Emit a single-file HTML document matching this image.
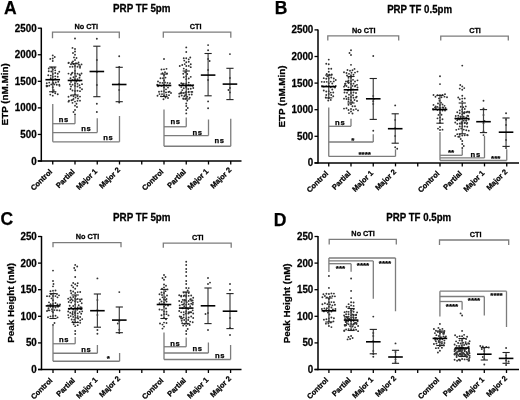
<!DOCTYPE html>
<html><head><meta charset="utf-8"><style>
html,body{margin:0;padding:0;background:#fff;}
svg{display:block;}
text{font-family:"Liberation Sans", sans-serif;stroke:#000;stroke-width:0.25px;}
</style></head><body>
<svg width="520" height="400" viewBox="0 0 520 400">
<defs><filter id="bl" x="0" y="0" width="100%" height="100%"><feGaussianBlur stdDeviation="0.3"/></filter></defs>
<rect width="520" height="400" fill="#fff"/>
<g filter="url(#bl)">
<rect width="520" height="400" fill="#fff"/>
<line x1="41.30" y1="27.70" x2="41.30" y2="161.70" stroke="#000" stroke-width="1.5"/>
<line x1="37.80" y1="161.00" x2="241.50" y2="161.00" stroke="#000" stroke-width="1.5"/>
<line x1="37.80" y1="161.00" x2="41.30" y2="161.00" stroke="#000" stroke-width="1.3"/>
<text x="0" y="0" font-size="9.8" font-weight="bold" text-anchor="end" fill="#000" transform="translate(36.60 164.55) scale(1 1.06)">0</text>
<line x1="37.80" y1="134.44" x2="41.30" y2="134.44" stroke="#000" stroke-width="1.3"/>
<text x="0" y="0" font-size="9.8" font-weight="bold" text-anchor="end" fill="#000" transform="translate(36.60 137.99) scale(1 1.06)">500</text>
<line x1="37.80" y1="107.88" x2="41.30" y2="107.88" stroke="#000" stroke-width="1.3"/>
<text x="0" y="0" font-size="9.8" font-weight="bold" text-anchor="end" fill="#000" transform="translate(36.60 111.43) scale(1 1.06)">1000</text>
<line x1="37.80" y1="81.32" x2="41.30" y2="81.32" stroke="#000" stroke-width="1.3"/>
<text x="0" y="0" font-size="9.8" font-weight="bold" text-anchor="end" fill="#000" transform="translate(36.60 84.87) scale(1 1.06)">1500</text>
<line x1="37.80" y1="54.76" x2="41.30" y2="54.76" stroke="#000" stroke-width="1.3"/>
<text x="0" y="0" font-size="9.8" font-weight="bold" text-anchor="end" fill="#000" transform="translate(36.60 58.31) scale(1 1.06)">2000</text>
<line x1="37.80" y1="28.20" x2="41.30" y2="28.20" stroke="#000" stroke-width="1.3"/>
<text x="0" y="0" font-size="9.8" font-weight="bold" text-anchor="end" fill="#000" transform="translate(36.60 31.75) scale(1 1.06)">2500</text>
<line x1="52.75" y1="161.00" x2="52.75" y2="164.50" stroke="#000" stroke-width="1.3"/>
<line x1="75.00" y1="161.00" x2="75.00" y2="164.50" stroke="#000" stroke-width="1.3"/>
<line x1="97.25" y1="161.00" x2="97.25" y2="164.50" stroke="#000" stroke-width="1.3"/>
<line x1="119.50" y1="161.00" x2="119.50" y2="164.50" stroke="#000" stroke-width="1.3"/>
<line x1="141.75" y1="161.00" x2="141.75" y2="164.50" stroke="#000" stroke-width="1.3"/>
<line x1="164.00" y1="161.00" x2="164.00" y2="164.50" stroke="#000" stroke-width="1.3"/>
<line x1="186.25" y1="161.00" x2="186.25" y2="164.50" stroke="#000" stroke-width="1.3"/>
<line x1="208.50" y1="161.00" x2="208.50" y2="164.50" stroke="#000" stroke-width="1.3"/>
<line x1="230.75" y1="161.00" x2="230.75" y2="164.50" stroke="#000" stroke-width="1.3"/>
<text x="0" y="0" font-size="7.5" font-weight="bold" text-anchor="end" fill="#000" transform="translate(52.65 172.20) rotate(-45)">Control</text>
<text x="0" y="0" font-size="7.5" font-weight="bold" text-anchor="end" fill="#000" transform="translate(75.20 172.20) rotate(-45)">Partial</text>
<text x="0" y="0" font-size="7.5" font-weight="bold" text-anchor="end" fill="#000" transform="translate(97.75 171.70) rotate(-45)">Major 1</text>
<text x="0" y="0" font-size="7.5" font-weight="bold" text-anchor="end" fill="#000" transform="translate(120.70 170.40) rotate(-45)">Major 2</text>
<text x="0" y="0" font-size="7.5" font-weight="bold" text-anchor="end" fill="#000" transform="translate(163.90 172.20) rotate(-45)">Control</text>
<text x="0" y="0" font-size="7.5" font-weight="bold" text-anchor="end" fill="#000" transform="translate(186.45 172.20) rotate(-45)">Partial</text>
<text x="0" y="0" font-size="7.5" font-weight="bold" text-anchor="end" fill="#000" transform="translate(209.00 171.70) rotate(-45)">Major 1</text>
<text x="0" y="0" font-size="7.5" font-weight="bold" text-anchor="end" fill="#000" transform="translate(231.95 170.40) rotate(-45)">Major 2</text>
<text x="4.10" y="14.00" font-size="17.5" font-weight="bold" text-anchor="start" fill="#000">A</text>
<text x="0" y="0" font-size="9.8" font-weight="bold" text-anchor="middle" fill="#000" transform="translate(141.80 12.20) scale(1 1.1)">PRP TF 5pm</text>
<polyline points="52.50,38.20 52.50,32.20 119.30,32.20 119.30,38.20" fill="none" stroke="#7c7c7c" stroke-width="1.3"/>
<text x="0" y="0" font-size="7.3" font-weight="bold" text-anchor="middle" fill="#000" transform="translate(86.25 29.00) scale(1 1.08)">No CTI</text>
<polyline points="163.30,37.70 163.30,32.20 230.80,32.20 230.80,37.70" fill="none" stroke="#7c7c7c" stroke-width="1.3"/>
<text x="0" y="0" font-size="7.3" font-weight="bold" text-anchor="middle" fill="#000" transform="translate(195.70 29.00) scale(1 1.08)">CTI</text>
<text x="0" y="0" font-size="9.85" font-weight="bold" text-anchor="middle" fill="#000" transform="translate(8.00 94.30) rotate(-90)">ETP (nM.Min)</text>
<circle cx="52.75" cy="76.86" r="0.95" fill="#333"/>
<circle cx="52.75" cy="80.10" r="0.95" fill="#333"/>
<circle cx="50.75" cy="78.18" r="0.95" fill="#333"/>
<circle cx="50.75" cy="75.60" r="0.95" fill="#333"/>
<circle cx="55.25" cy="76.33" r="0.95" fill="#333"/>
<circle cx="52.75" cy="73.96" r="0.95" fill="#333"/>
<circle cx="48.25" cy="75.24" r="0.95" fill="#333"/>
<circle cx="55.25" cy="73.06" r="0.95" fill="#333"/>
<circle cx="55.25" cy="78.93" r="0.95" fill="#333"/>
<circle cx="52.75" cy="82.53" r="0.95" fill="#333"/>
<circle cx="57.75" cy="76.70" r="0.95" fill="#333"/>
<circle cx="54.25" cy="84.39" r="0.95" fill="#333"/>
<circle cx="51.25" cy="84.38" r="0.95" fill="#333"/>
<circle cx="55.75" cy="82.57" r="0.95" fill="#333"/>
<circle cx="49.25" cy="82.58" r="0.95" fill="#333"/>
<circle cx="58.25" cy="81.79" r="0.95" fill="#333"/>
<circle cx="46.75" cy="83.28" r="0.95" fill="#333"/>
<circle cx="57.75" cy="73.71" r="0.95" fill="#333"/>
<circle cx="56.75" cy="84.78" r="0.95" fill="#333"/>
<circle cx="53.23" cy="83.32" r="0.95" fill="#333"/>
<circle cx="52.75" cy="87.32" r="0.95" fill="#333"/>
<circle cx="49.25" cy="85.67" r="0.95" fill="#333"/>
<circle cx="52.75" cy="69.50" r="0.95" fill="#333"/>
<circle cx="51.25" cy="71.55" r="0.95" fill="#333"/>
<circle cx="55.25" cy="70.35" r="0.95" fill="#333"/>
<circle cx="59.25" cy="84.75" r="0.95" fill="#333"/>
<circle cx="48.75" cy="71.32" r="0.95" fill="#333"/>
<circle cx="51.25" cy="67.66" r="0.95" fill="#333"/>
<circle cx="59.25" cy="71.82" r="0.95" fill="#333"/>
<circle cx="46.75" cy="86.39" r="0.95" fill="#333"/>
<circle cx="46.62" cy="85.77" r="0.95" fill="#333"/>
<circle cx="59.54" cy="85.83" r="0.95" fill="#333"/>
<circle cx="48.75" cy="68.49" r="0.95" fill="#333"/>
<circle cx="47.29" cy="85.95" r="0.95" fill="#333"/>
<circle cx="52.75" cy="92.33" r="0.95" fill="#333"/>
<circle cx="53.75" cy="90.08" r="0.95" fill="#333"/>
<circle cx="54.75" cy="67.99" r="0.95" fill="#333"/>
<circle cx="55.25" cy="93.26" r="0.95" fill="#333"/>
<circle cx="52.75" cy="95.66" r="0.95" fill="#333"/>
<circle cx="50.25" cy="94.61" r="0.95" fill="#333"/>
<circle cx="57.75" cy="94.31" r="0.95" fill="#333"/>
<circle cx="52.75" cy="61.06" r="0.95" fill="#333"/>
<circle cx="52.75" cy="58.57" r="0.95" fill="#333"/>
<circle cx="50.25" cy="58.88" r="0.95" fill="#333"/>
<circle cx="52.75" cy="55.40" r="0.95" fill="#333"/>
<circle cx="54.75" cy="57.00" r="0.95" fill="#333"/>
<line x1="52.75" y1="67.00" x2="52.75" y2="91.75" stroke="#444" stroke-width="1.2"/>
<line x1="49.15" y1="67.00" x2="56.35" y2="67.00" stroke="#222" stroke-width="1.1"/>
<line x1="49.15" y1="91.75" x2="56.35" y2="91.75" stroke="#222" stroke-width="1.1"/>
<line x1="45.45" y1="79.70" x2="60.05" y2="79.70" stroke="#000" stroke-width="1.6"/>
<circle cx="75.00" cy="79.23" r="0.95" fill="#333"/>
<circle cx="72.50" cy="79.98" r="0.95" fill="#333"/>
<circle cx="77.50" cy="79.17" r="0.95" fill="#333"/>
<circle cx="75.00" cy="83.48" r="0.95" fill="#333"/>
<circle cx="70.50" cy="78.26" r="0.95" fill="#333"/>
<circle cx="76.50" cy="81.50" r="0.95" fill="#333"/>
<circle cx="72.50" cy="84.66" r="0.95" fill="#333"/>
<circle cx="77.50" cy="83.85" r="0.95" fill="#333"/>
<circle cx="70.00" cy="84.25" r="0.95" fill="#333"/>
<circle cx="71.00" cy="81.91" r="0.95" fill="#333"/>
<circle cx="79.50" cy="80.66" r="0.95" fill="#333"/>
<circle cx="75.00" cy="85.88" r="0.95" fill="#333"/>
<circle cx="77.50" cy="86.54" r="0.95" fill="#333"/>
<circle cx="71.00" cy="86.57" r="0.95" fill="#333"/>
<circle cx="79.50" cy="85.18" r="0.95" fill="#333"/>
<circle cx="79.50" cy="77.81" r="0.95" fill="#333"/>
<circle cx="75.00" cy="73.54" r="0.95" fill="#333"/>
<circle cx="72.50" cy="72.62" r="0.95" fill="#333"/>
<circle cx="73.50" cy="77.18" r="0.95" fill="#333"/>
<circle cx="82.00" cy="84.16" r="0.95" fill="#333"/>
<circle cx="77.50" cy="73.67" r="0.95" fill="#333"/>
<circle cx="76.00" cy="76.31" r="0.95" fill="#333"/>
<circle cx="71.00" cy="74.63" r="0.95" fill="#333"/>
<circle cx="75.00" cy="70.85" r="0.95" fill="#333"/>
<circle cx="80.00" cy="75.48" r="0.95" fill="#333"/>
<circle cx="81.50" cy="73.44" r="0.95" fill="#333"/>
<circle cx="68.50" cy="73.58" r="0.95" fill="#333"/>
<circle cx="75.00" cy="90.94" r="0.95" fill="#333"/>
<circle cx="71.81" cy="73.41" r="0.95" fill="#333"/>
<circle cx="80.00" cy="87.64" r="0.95" fill="#333"/>
<circle cx="72.50" cy="90.51" r="0.95" fill="#333"/>
<circle cx="79.48" cy="74.39" r="0.95" fill="#333"/>
<circle cx="77.50" cy="90.79" r="0.95" fill="#333"/>
<circle cx="70.50" cy="88.99" r="0.95" fill="#333"/>
<circle cx="82.00" cy="89.21" r="0.95" fill="#333"/>
<circle cx="75.00" cy="94.35" r="0.95" fill="#333"/>
<circle cx="75.00" cy="65.97" r="0.95" fill="#333"/>
<circle cx="80.00" cy="91.13" r="0.95" fill="#333"/>
<circle cx="72.50" cy="66.68" r="0.95" fill="#333"/>
<circle cx="77.50" cy="66.73" r="0.95" fill="#333"/>
<circle cx="80.00" cy="67.76" r="0.95" fill="#333"/>
<circle cx="73.50" cy="96.30" r="0.95" fill="#333"/>
<circle cx="79.00" cy="64.80" r="0.95" fill="#333"/>
<circle cx="73.50" cy="63.97" r="0.95" fill="#333"/>
<circle cx="71.00" cy="64.18" r="0.95" fill="#333"/>
<circle cx="76.00" cy="63.14" r="0.95" fill="#333"/>
<circle cx="75.50" cy="97.56" r="0.95" fill="#333"/>
<circle cx="70.00" cy="66.84" r="0.95" fill="#333"/>
<circle cx="77.50" cy="96.13" r="0.95" fill="#333"/>
<circle cx="81.50" cy="64.39" r="0.95" fill="#333"/>
<circle cx="80.08" cy="66.15" r="0.95" fill="#333"/>
<circle cx="73.50" cy="98.88" r="0.95" fill="#333"/>
<circle cx="71.00" cy="95.53" r="0.95" fill="#333"/>
<circle cx="80.00" cy="96.59" r="0.95" fill="#333"/>
<circle cx="68.50" cy="96.71" r="0.95" fill="#333"/>
<circle cx="78.00" cy="98.51" r="0.95" fill="#333"/>
<circle cx="78.50" cy="62.41" r="0.95" fill="#333"/>
<circle cx="75.00" cy="101.61" r="0.95" fill="#333"/>
<circle cx="68.50" cy="63.09" r="0.95" fill="#333"/>
<circle cx="77.50" cy="100.83" r="0.95" fill="#333"/>
<circle cx="71.50" cy="100.23" r="0.95" fill="#333"/>
<circle cx="68.71" cy="62.65" r="0.95" fill="#333"/>
<circle cx="80.00" cy="100.64" r="0.95" fill="#333"/>
<circle cx="75.00" cy="59.93" r="0.95" fill="#333"/>
<circle cx="73.00" cy="61.41" r="0.95" fill="#333"/>
<circle cx="72.06" cy="62.45" r="0.95" fill="#333"/>
<circle cx="69.00" cy="100.71" r="0.95" fill="#333"/>
<circle cx="72.86" cy="99.83" r="0.95" fill="#333"/>
<circle cx="75.00" cy="105.64" r="0.95" fill="#333"/>
<circle cx="68.52" cy="101.66" r="0.95" fill="#333"/>
<circle cx="76.50" cy="57.97" r="0.95" fill="#333"/>
<circle cx="74.00" cy="57.38" r="0.95" fill="#333"/>
<circle cx="72.50" cy="102.84" r="0.95" fill="#333"/>
<circle cx="76.50" cy="103.82" r="0.95" fill="#333"/>
<circle cx="75.00" cy="54.68" r="0.95" fill="#333"/>
<circle cx="77.00" cy="106.97" r="0.95" fill="#333"/>
<circle cx="73.00" cy="53.00" r="0.95" fill="#333"/>
<circle cx="75.00" cy="110.00" r="0.95" fill="#333"/>
<circle cx="73.50" cy="112.00" r="0.95" fill="#333"/>
<circle cx="75.00" cy="51.50" r="0.95" fill="#333"/>
<circle cx="75.00" cy="114.50" r="0.95" fill="#333"/>
<circle cx="75.00" cy="49.00" r="0.95" fill="#333"/>
<circle cx="72.50" cy="47.90" r="0.95" fill="#333"/>
<circle cx="75.00" cy="38.50" r="0.95" fill="#333"/>
<line x1="75.00" y1="63.75" x2="75.00" y2="95.00" stroke="#444" stroke-width="1.2"/>
<line x1="71.40" y1="63.75" x2="78.60" y2="63.75" stroke="#222" stroke-width="1.1"/>
<line x1="71.40" y1="95.00" x2="78.60" y2="95.00" stroke="#222" stroke-width="1.1"/>
<line x1="67.70" y1="80.45" x2="82.30" y2="80.45" stroke="#000" stroke-width="1.6"/>
<circle cx="96.85" cy="85.00" r="0.95" fill="#333"/>
<circle cx="96.85" cy="72.00" r="0.95" fill="#333"/>
<circle cx="96.85" cy="60.00" r="0.95" fill="#333"/>
<circle cx="96.85" cy="103.75" r="0.95" fill="#333"/>
<circle cx="96.85" cy="112.00" r="0.95" fill="#333"/>
<circle cx="96.85" cy="38.75" r="0.95" fill="#333"/>
<line x1="96.85" y1="46.20" x2="96.85" y2="96.70" stroke="#444" stroke-width="1.2"/>
<line x1="93.25" y1="46.20" x2="100.45" y2="46.20" stroke="#222" stroke-width="1.1"/>
<line x1="93.25" y1="96.70" x2="100.45" y2="96.70" stroke="#222" stroke-width="1.1"/>
<line x1="89.55" y1="71.50" x2="104.15" y2="71.50" stroke="#000" stroke-width="1.6"/>
<circle cx="119.20" cy="83.75" r="0.95" fill="#333"/>
<circle cx="119.20" cy="90.00" r="0.95" fill="#333"/>
<circle cx="119.20" cy="67.00" r="0.95" fill="#333"/>
<circle cx="119.20" cy="56.25" r="0.95" fill="#333"/>
<circle cx="119.20" cy="102.50" r="0.95" fill="#333"/>
<line x1="119.20" y1="67.30" x2="119.20" y2="101.70" stroke="#444" stroke-width="1.2"/>
<line x1="115.60" y1="67.30" x2="122.80" y2="67.30" stroke="#222" stroke-width="1.1"/>
<line x1="115.60" y1="101.70" x2="122.80" y2="101.70" stroke="#222" stroke-width="1.1"/>
<line x1="111.90" y1="84.50" x2="126.50" y2="84.50" stroke="#000" stroke-width="1.6"/>
<circle cx="164.00" cy="84.71" r="0.95" fill="#333"/>
<circle cx="164.00" cy="87.41" r="0.95" fill="#333"/>
<circle cx="161.50" cy="85.92" r="0.95" fill="#333"/>
<circle cx="162.50" cy="82.88" r="0.95" fill="#333"/>
<circle cx="165.00" cy="82.56" r="0.95" fill="#333"/>
<circle cx="167.50" cy="82.91" r="0.95" fill="#333"/>
<circle cx="166.50" cy="85.57" r="0.95" fill="#333"/>
<circle cx="159.00" cy="85.37" r="0.95" fill="#333"/>
<circle cx="169.00" cy="85.36" r="0.95" fill="#333"/>
<circle cx="157.25" cy="84.69" r="0.95" fill="#333"/>
<circle cx="158.07" cy="86.32" r="0.95" fill="#333"/>
<circle cx="160.00" cy="82.69" r="0.95" fill="#333"/>
<circle cx="164.00" cy="91.10" r="0.95" fill="#333"/>
<circle cx="161.50" cy="91.37" r="0.95" fill="#333"/>
<circle cx="170.00" cy="83.22" r="0.95" fill="#333"/>
<circle cx="168.00" cy="87.62" r="0.95" fill="#333"/>
<circle cx="158.00" cy="81.44" r="0.95" fill="#333"/>
<circle cx="166.00" cy="92.39" r="0.95" fill="#333"/>
<circle cx="164.00" cy="80.40" r="0.95" fill="#333"/>
<circle cx="168.50" cy="92.01" r="0.95" fill="#333"/>
<circle cx="163.00" cy="78.23" r="0.95" fill="#333"/>
<circle cx="166.00" cy="89.34" r="0.95" fill="#333"/>
<circle cx="159.00" cy="91.69" r="0.95" fill="#333"/>
<circle cx="171.00" cy="93.02" r="0.95" fill="#333"/>
<circle cx="165.50" cy="77.62" r="0.95" fill="#333"/>
<circle cx="164.00" cy="95.52" r="0.95" fill="#333"/>
<circle cx="169.57" cy="91.67" r="0.95" fill="#333"/>
<circle cx="162.00" cy="94.08" r="0.95" fill="#333"/>
<circle cx="160.50" cy="78.22" r="0.95" fill="#333"/>
<circle cx="164.00" cy="75.37" r="0.95" fill="#333"/>
<circle cx="159.50" cy="94.11" r="0.95" fill="#333"/>
<circle cx="165.50" cy="97.60" r="0.95" fill="#333"/>
<circle cx="162.50" cy="73.32" r="0.95" fill="#333"/>
<circle cx="166.50" cy="94.90" r="0.95" fill="#333"/>
<circle cx="169.00" cy="95.13" r="0.95" fill="#333"/>
<circle cx="157.50" cy="95.82" r="0.95" fill="#333"/>
<circle cx="161.00" cy="96.33" r="0.95" fill="#333"/>
<circle cx="165.00" cy="72.17" r="0.95" fill="#333"/>
<circle cx="163.50" cy="99.25" r="0.95" fill="#333"/>
<circle cx="167.00" cy="73.44" r="0.95" fill="#333"/>
<circle cx="168.00" cy="98.01" r="0.95" fill="#333"/>
<circle cx="164.00" cy="69.36" r="0.95" fill="#333"/>
<circle cx="161.50" cy="69.52" r="0.95" fill="#333"/>
<circle cx="166.50" cy="68.83" r="0.95" fill="#333"/>
<circle cx="164.00" cy="59.00" r="0.95" fill="#333"/>
<line x1="164.00" y1="74.00" x2="164.00" y2="96.50" stroke="#444" stroke-width="1.2"/>
<line x1="160.40" y1="74.00" x2="167.60" y2="74.00" stroke="#222" stroke-width="1.1"/>
<line x1="160.40" y1="96.50" x2="167.60" y2="96.50" stroke="#222" stroke-width="1.1"/>
<line x1="156.70" y1="85.50" x2="171.30" y2="85.50" stroke="#000" stroke-width="1.6"/>
<circle cx="186.25" cy="83.35" r="0.95" fill="#333"/>
<circle cx="183.75" cy="83.77" r="0.95" fill="#333"/>
<circle cx="188.75" cy="82.59" r="0.95" fill="#333"/>
<circle cx="181.25" cy="83.23" r="0.95" fill="#333"/>
<circle cx="188.25" cy="85.03" r="0.95" fill="#333"/>
<circle cx="190.75" cy="85.19" r="0.95" fill="#333"/>
<circle cx="179.25" cy="84.98" r="0.95" fill="#333"/>
<circle cx="193.25" cy="85.12" r="0.95" fill="#333"/>
<circle cx="186.19" cy="84.48" r="0.95" fill="#333"/>
<circle cx="186.25" cy="87.49" r="0.95" fill="#333"/>
<circle cx="189.97" cy="85.27" r="0.95" fill="#333"/>
<circle cx="182.48" cy="84.96" r="0.95" fill="#333"/>
<circle cx="182.96" cy="83.82" r="0.95" fill="#333"/>
<circle cx="183.75" cy="88.25" r="0.95" fill="#333"/>
<circle cx="192.58" cy="85.79" r="0.95" fill="#333"/>
<circle cx="188.25" cy="89.07" r="0.95" fill="#333"/>
<circle cx="181.25" cy="87.09" r="0.95" fill="#333"/>
<circle cx="186.04" cy="86.61" r="0.95" fill="#333"/>
<circle cx="190.75" cy="88.81" r="0.95" fill="#333"/>
<circle cx="186.25" cy="76.26" r="0.95" fill="#333"/>
<circle cx="183.75" cy="77.29" r="0.95" fill="#333"/>
<circle cx="186.25" cy="79.16" r="0.95" fill="#333"/>
<circle cx="188.75" cy="78.55" r="0.95" fill="#333"/>
<circle cx="193.25" cy="88.06" r="0.95" fill="#333"/>
<circle cx="186.25" cy="91.98" r="0.95" fill="#333"/>
<circle cx="183.75" cy="92.97" r="0.95" fill="#333"/>
<circle cx="187.25" cy="73.99" r="0.95" fill="#333"/>
<circle cx="188.75" cy="91.80" r="0.95" fill="#333"/>
<circle cx="186.25" cy="94.57" r="0.95" fill="#333"/>
<circle cx="182.25" cy="90.11" r="0.95" fill="#333"/>
<circle cx="191.25" cy="91.85" r="0.95" fill="#333"/>
<circle cx="181.25" cy="92.26" r="0.95" fill="#333"/>
<circle cx="190.75" cy="76.85" r="0.95" fill="#333"/>
<circle cx="192.29" cy="91.88" r="0.95" fill="#333"/>
<circle cx="184.25" cy="96.19" r="0.95" fill="#333"/>
<circle cx="181.85" cy="93.06" r="0.95" fill="#333"/>
<circle cx="185.25" cy="72.24" r="0.95" fill="#333"/>
<circle cx="187.25" cy="96.79" r="0.95" fill="#333"/>
<circle cx="188.55" cy="92.33" r="0.95" fill="#333"/>
<circle cx="179.25" cy="93.64" r="0.95" fill="#333"/>
<circle cx="189.25" cy="94.60" r="0.95" fill="#333"/>
<circle cx="185.44" cy="92.54" r="0.95" fill="#333"/>
<circle cx="183.25" cy="73.71" r="0.95" fill="#333"/>
<circle cx="180.35" cy="93.29" r="0.95" fill="#333"/>
<circle cx="191.75" cy="94.54" r="0.95" fill="#333"/>
<circle cx="185.13" cy="95.30" r="0.95" fill="#333"/>
<circle cx="181.75" cy="95.49" r="0.95" fill="#333"/>
<circle cx="185.75" cy="98.70" r="0.95" fill="#333"/>
<circle cx="189.75" cy="97.75" r="0.95" fill="#333"/>
<circle cx="183.25" cy="98.52" r="0.95" fill="#333"/>
<circle cx="179.25" cy="96.48" r="0.95" fill="#333"/>
<circle cx="186.25" cy="66.07" r="0.95" fill="#333"/>
<circle cx="188.75" cy="65.91" r="0.95" fill="#333"/>
<circle cx="186.25" cy="69.67" r="0.95" fill="#333"/>
<circle cx="183.75" cy="68.58" r="0.95" fill="#333"/>
<circle cx="184.75" cy="64.12" r="0.95" fill="#333"/>
<circle cx="182.25" cy="65.04" r="0.95" fill="#333"/>
<circle cx="190.75" cy="67.17" r="0.95" fill="#333"/>
<circle cx="190.75" cy="64.21" r="0.95" fill="#333"/>
<circle cx="186.25" cy="103.50" r="0.95" fill="#333"/>
<circle cx="187.25" cy="100.66" r="0.95" fill="#333"/>
<circle cx="179.75" cy="65.93" r="0.95" fill="#333"/>
<circle cx="186.25" cy="62.20" r="0.95" fill="#333"/>
<circle cx="186.25" cy="58.18" r="0.95" fill="#333"/>
<circle cx="188.75" cy="59.35" r="0.95" fill="#333"/>
<circle cx="184.25" cy="60.62" r="0.95" fill="#333"/>
<circle cx="186.25" cy="106.00" r="0.95" fill="#333"/>
<circle cx="188.75" cy="61.74" r="0.95" fill="#333"/>
<circle cx="183.75" cy="58.19" r="0.95" fill="#333"/>
<circle cx="186.25" cy="110.00" r="0.95" fill="#333"/>
<circle cx="190.25" cy="57.49" r="0.95" fill="#333"/>
<circle cx="187.75" cy="108.00" r="0.95" fill="#333"/>
<circle cx="186.25" cy="113.40" r="0.95" fill="#333"/>
<circle cx="186.25" cy="52.00" r="0.95" fill="#333"/>
<circle cx="186.25" cy="47.40" r="0.95" fill="#333"/>
<line x1="186.25" y1="71.00" x2="186.25" y2="99.00" stroke="#444" stroke-width="1.2"/>
<line x1="182.65" y1="71.00" x2="189.85" y2="71.00" stroke="#222" stroke-width="1.1"/>
<line x1="182.65" y1="99.00" x2="189.85" y2="99.00" stroke="#222" stroke-width="1.1"/>
<line x1="178.95" y1="85.50" x2="193.55" y2="85.50" stroke="#000" stroke-width="1.6"/>
<circle cx="208.10" cy="70.00" r="0.95" fill="#333"/>
<circle cx="208.10" cy="80.00" r="0.95" fill="#333"/>
<circle cx="208.10" cy="59.00" r="0.95" fill="#333"/>
<circle cx="209.60" cy="61.00" r="0.95" fill="#333"/>
<circle cx="208.10" cy="50.30" r="0.95" fill="#333"/>
<circle cx="208.10" cy="45.10" r="0.95" fill="#333"/>
<circle cx="208.10" cy="101.40" r="0.95" fill="#333"/>
<circle cx="208.10" cy="108.20" r="0.95" fill="#333"/>
<line x1="208.10" y1="53.50" x2="208.10" y2="95.80" stroke="#444" stroke-width="1.2"/>
<line x1="204.50" y1="53.50" x2="211.70" y2="53.50" stroke="#222" stroke-width="1.1"/>
<line x1="204.50" y1="95.80" x2="211.70" y2="95.80" stroke="#222" stroke-width="1.1"/>
<line x1="200.80" y1="75.10" x2="215.40" y2="75.10" stroke="#000" stroke-width="1.6"/>
<circle cx="229.95" cy="78.00" r="0.95" fill="#333"/>
<circle cx="229.95" cy="88.00" r="0.95" fill="#333"/>
<circle cx="228.45" cy="90.00" r="0.95" fill="#333"/>
<circle cx="229.95" cy="92.40" r="0.95" fill="#333"/>
<circle cx="229.95" cy="54.10" r="0.95" fill="#333"/>
<line x1="229.95" y1="68.30" x2="229.95" y2="99.60" stroke="#444" stroke-width="1.2"/>
<line x1="226.35" y1="68.30" x2="233.55" y2="68.30" stroke="#222" stroke-width="1.1"/>
<line x1="226.35" y1="99.60" x2="233.55" y2="99.60" stroke="#222" stroke-width="1.1"/>
<line x1="222.65" y1="84.10" x2="237.25" y2="84.10" stroke="#000" stroke-width="1.6"/>
<line x1="52.75" y1="104.00" x2="52.75" y2="141.80" stroke="#7c7c7c" stroke-width="1.3"/>
<line x1="52.75" y1="123.70" x2="75.00" y2="123.70" stroke="#7c7c7c" stroke-width="1.3"/>
<line x1="75.00" y1="115.50" x2="75.00" y2="123.70" stroke="#7c7c7c" stroke-width="1.3"/>
<text x="63.85" y="121.60" font-size="7.6" font-weight="bold" text-anchor="middle" fill="#000" letter-spacing="0.7">ns</text>
<line x1="52.75" y1="132.60" x2="97.25" y2="132.60" stroke="#7c7c7c" stroke-width="1.3"/>
<line x1="97.25" y1="118.30" x2="97.25" y2="132.60" stroke="#7c7c7c" stroke-width="1.3"/>
<text x="86.35" y="130.90" font-size="7.6" font-weight="bold" text-anchor="middle" fill="#000" letter-spacing="0.7">ns</text>
<line x1="52.75" y1="141.80" x2="119.50" y2="141.80" stroke="#7c7c7c" stroke-width="1.3"/>
<line x1="119.50" y1="116.00" x2="119.50" y2="141.80" stroke="#7c7c7c" stroke-width="1.3"/>
<text x="108.35" y="139.80" font-size="7.6" font-weight="bold" text-anchor="middle" fill="#000" letter-spacing="0.7">ns</text>
<line x1="164.00" y1="109.50" x2="164.00" y2="146.25" stroke="#7c7c7c" stroke-width="1.3"/>
<line x1="164.00" y1="126.75" x2="186.25" y2="126.75" stroke="#7c7c7c" stroke-width="1.3"/>
<line x1="186.25" y1="117.50" x2="186.25" y2="126.75" stroke="#7c7c7c" stroke-width="1.3"/>
<text x="175.55" y="124.40" font-size="7.6" font-weight="bold" text-anchor="middle" fill="#000" letter-spacing="0.7">ns</text>
<line x1="164.00" y1="135.60" x2="208.50" y2="135.60" stroke="#7c7c7c" stroke-width="1.3"/>
<line x1="208.50" y1="119.50" x2="208.50" y2="135.60" stroke="#7c7c7c" stroke-width="1.3"/>
<text x="197.55" y="135.00" font-size="7.6" font-weight="bold" text-anchor="middle" fill="#000" letter-spacing="0.7">ns</text>
<line x1="164.00" y1="146.25" x2="230.75" y2="146.25" stroke="#7c7c7c" stroke-width="1.3"/>
<line x1="230.75" y1="118.75" x2="230.75" y2="146.25" stroke="#7c7c7c" stroke-width="1.3"/>
<text x="219.55" y="143.20" font-size="7.6" font-weight="bold" text-anchor="middle" fill="#000" letter-spacing="0.7">ns</text>
<line x1="318.00" y1="29.40" x2="318.00" y2="163.60" stroke="#000" stroke-width="1.5"/>
<line x1="314.50" y1="162.90" x2="519.00" y2="162.90" stroke="#000" stroke-width="1.5"/>
<line x1="314.50" y1="162.90" x2="318.00" y2="162.90" stroke="#000" stroke-width="1.3"/>
<text x="0" y="0" font-size="9.8" font-weight="bold" text-anchor="end" fill="#000" transform="translate(313.30 166.45) scale(1 1.06)">0</text>
<line x1="314.50" y1="136.30" x2="318.00" y2="136.30" stroke="#000" stroke-width="1.3"/>
<text x="0" y="0" font-size="9.8" font-weight="bold" text-anchor="end" fill="#000" transform="translate(313.30 139.85) scale(1 1.06)">500</text>
<line x1="314.50" y1="109.70" x2="318.00" y2="109.70" stroke="#000" stroke-width="1.3"/>
<text x="0" y="0" font-size="9.8" font-weight="bold" text-anchor="end" fill="#000" transform="translate(313.30 113.25) scale(1 1.06)">1000</text>
<line x1="314.50" y1="83.10" x2="318.00" y2="83.10" stroke="#000" stroke-width="1.3"/>
<text x="0" y="0" font-size="9.8" font-weight="bold" text-anchor="end" fill="#000" transform="translate(313.30 86.65) scale(1 1.06)">1500</text>
<line x1="314.50" y1="56.50" x2="318.00" y2="56.50" stroke="#000" stroke-width="1.3"/>
<text x="0" y="0" font-size="9.8" font-weight="bold" text-anchor="end" fill="#000" transform="translate(313.30 60.05) scale(1 1.06)">2000</text>
<line x1="314.50" y1="29.90" x2="318.00" y2="29.90" stroke="#000" stroke-width="1.3"/>
<text x="0" y="0" font-size="9.8" font-weight="bold" text-anchor="end" fill="#000" transform="translate(313.30 33.45) scale(1 1.06)">2500</text>
<line x1="328.75" y1="162.90" x2="328.75" y2="166.40" stroke="#000" stroke-width="1.3"/>
<line x1="351.00" y1="162.90" x2="351.00" y2="166.40" stroke="#000" stroke-width="1.3"/>
<line x1="373.25" y1="162.90" x2="373.25" y2="166.40" stroke="#000" stroke-width="1.3"/>
<line x1="395.50" y1="162.90" x2="395.50" y2="166.40" stroke="#000" stroke-width="1.3"/>
<line x1="417.75" y1="162.90" x2="417.75" y2="166.40" stroke="#000" stroke-width="1.3"/>
<line x1="440.00" y1="162.90" x2="440.00" y2="166.40" stroke="#000" stroke-width="1.3"/>
<line x1="462.25" y1="162.90" x2="462.25" y2="166.40" stroke="#000" stroke-width="1.3"/>
<line x1="484.50" y1="162.90" x2="484.50" y2="166.40" stroke="#000" stroke-width="1.3"/>
<line x1="506.75" y1="162.90" x2="506.75" y2="166.40" stroke="#000" stroke-width="1.3"/>
<text x="0" y="0" font-size="7.5" font-weight="bold" text-anchor="end" fill="#000" transform="translate(328.65 174.10) rotate(-45)">Control</text>
<text x="0" y="0" font-size="7.5" font-weight="bold" text-anchor="end" fill="#000" transform="translate(351.20 174.10) rotate(-45)">Partial</text>
<text x="0" y="0" font-size="7.5" font-weight="bold" text-anchor="end" fill="#000" transform="translate(373.75 173.60) rotate(-45)">Major 1</text>
<text x="0" y="0" font-size="7.5" font-weight="bold" text-anchor="end" fill="#000" transform="translate(396.70 172.30) rotate(-45)">Major 2</text>
<text x="0" y="0" font-size="7.5" font-weight="bold" text-anchor="end" fill="#000" transform="translate(439.90 174.10) rotate(-45)">Control</text>
<text x="0" y="0" font-size="7.5" font-weight="bold" text-anchor="end" fill="#000" transform="translate(462.45 174.10) rotate(-45)">Partial</text>
<text x="0" y="0" font-size="7.5" font-weight="bold" text-anchor="end" fill="#000" transform="translate(485.00 173.60) rotate(-45)">Major 1</text>
<text x="0" y="0" font-size="7.5" font-weight="bold" text-anchor="end" fill="#000" transform="translate(507.95 172.30) rotate(-45)">Major 2</text>
<text x="274.70" y="13.60" font-size="17.5" font-weight="bold" text-anchor="start" fill="#000">B</text>
<text x="0" y="0" font-size="9.7" font-weight="bold" text-anchor="middle" fill="#000" transform="translate(419.60 13.40) scale(1 1.07)">PRP TF 0.5pm</text>
<polyline points="327.80,40.40 327.80,35.90 398.70,35.90 398.70,40.40" fill="none" stroke="#7c7c7c" stroke-width="1.3"/>
<text x="0" y="0" font-size="7.3" font-weight="bold" text-anchor="middle" fill="#000" transform="translate(363.75 32.70) scale(1 1.08)">No CTI</text>
<polyline points="440.75,40.60 440.75,36.10 508.30,36.10 508.30,40.60" fill="none" stroke="#7c7c7c" stroke-width="1.3"/>
<text x="0" y="0" font-size="7.3" font-weight="bold" text-anchor="middle" fill="#000" transform="translate(475.00 32.90) scale(1 1.08)">CTI</text>
<text x="0" y="0" font-size="9.85" font-weight="bold" text-anchor="middle" fill="#000" transform="translate(285.00 96.50) rotate(-90)">ETP (nM.Min)</text>
<circle cx="328.75" cy="83.30" r="0.95" fill="#333"/>
<circle cx="330.75" cy="81.61" r="0.95" fill="#333"/>
<circle cx="328.75" cy="85.83" r="0.95" fill="#333"/>
<circle cx="326.75" cy="81.87" r="0.95" fill="#333"/>
<circle cx="332.25" cy="83.43" r="0.95" fill="#333"/>
<circle cx="326.25" cy="86.12" r="0.95" fill="#333"/>
<circle cx="330.75" cy="87.33" r="0.95" fill="#333"/>
<circle cx="333.25" cy="86.47" r="0.95" fill="#333"/>
<circle cx="323.75" cy="86.54" r="0.95" fill="#333"/>
<circle cx="335.75" cy="85.95" r="0.95" fill="#333"/>
<circle cx="328.75" cy="78.40" r="0.95" fill="#333"/>
<circle cx="324.25" cy="81.91" r="0.95" fill="#333"/>
<circle cx="322.00" cy="86.02" r="0.95" fill="#333"/>
<circle cx="333.75" cy="81.42" r="0.95" fill="#333"/>
<circle cx="331.25" cy="77.47" r="0.95" fill="#333"/>
<circle cx="326.25" cy="78.82" r="0.95" fill="#333"/>
<circle cx="321.75" cy="81.83" r="0.95" fill="#333"/>
<circle cx="334.94" cy="87.57" r="0.95" fill="#333"/>
<circle cx="323.75" cy="78.14" r="0.95" fill="#333"/>
<circle cx="333.75" cy="78.46" r="0.95" fill="#333"/>
<circle cx="335.75" cy="80.06" r="0.95" fill="#333"/>
<circle cx="327.25" cy="76.34" r="0.95" fill="#333"/>
<circle cx="328.75" cy="91.16" r="0.95" fill="#333"/>
<circle cx="326.25" cy="91.54" r="0.95" fill="#333"/>
<circle cx="329.25" cy="74.69" r="0.95" fill="#333"/>
<circle cx="330.75" cy="92.60" r="0.95" fill="#333"/>
<circle cx="332.25" cy="89.45" r="0.95" fill="#333"/>
<circle cx="326.75" cy="73.98" r="0.95" fill="#333"/>
<circle cx="331.75" cy="74.39" r="0.95" fill="#333"/>
<circle cx="323.75" cy="90.57" r="0.95" fill="#333"/>
<circle cx="333.25" cy="92.46" r="0.95" fill="#333"/>
<circle cx="328.75" cy="71.76" r="0.95" fill="#333"/>
<circle cx="328.75" cy="68.79" r="0.95" fill="#333"/>
<circle cx="328.75" cy="98.18" r="0.95" fill="#333"/>
<circle cx="328.75" cy="94.03" r="0.95" fill="#333"/>
<circle cx="331.25" cy="94.95" r="0.95" fill="#333"/>
<circle cx="326.25" cy="95.06" r="0.95" fill="#333"/>
<circle cx="333.25" cy="96.19" r="0.95" fill="#333"/>
<circle cx="325.75" cy="97.41" r="0.95" fill="#333"/>
<circle cx="331.25" cy="68.74" r="0.95" fill="#333"/>
<circle cx="330.75" cy="99.91" r="0.95" fill="#333"/>
<circle cx="328.25" cy="100.53" r="0.95" fill="#333"/>
<circle cx="328.75" cy="64.31" r="0.95" fill="#333"/>
<circle cx="326.25" cy="63.77" r="0.95" fill="#333"/>
<circle cx="328.75" cy="59.60" r="0.95" fill="#333"/>
<line x1="328.75" y1="75.10" x2="328.75" y2="97.90" stroke="#444" stroke-width="1.2"/>
<line x1="325.15" y1="75.10" x2="332.35" y2="75.10" stroke="#222" stroke-width="1.1"/>
<line x1="325.15" y1="97.90" x2="332.35" y2="97.90" stroke="#222" stroke-width="1.1"/>
<line x1="321.45" y1="86.60" x2="336.05" y2="86.60" stroke="#000" stroke-width="1.6"/>
<circle cx="351.00" cy="87.91" r="0.95" fill="#333"/>
<circle cx="348.50" cy="87.35" r="0.95" fill="#333"/>
<circle cx="353.00" cy="89.41" r="0.95" fill="#333"/>
<circle cx="352.50" cy="85.91" r="0.95" fill="#333"/>
<circle cx="355.00" cy="86.41" r="0.95" fill="#333"/>
<circle cx="351.00" cy="83.90" r="0.95" fill="#333"/>
<circle cx="346.50" cy="86.01" r="0.95" fill="#333"/>
<circle cx="357.50" cy="87.50" r="0.95" fill="#333"/>
<circle cx="351.00" cy="93.07" r="0.95" fill="#333"/>
<circle cx="350.50" cy="90.25" r="0.95" fill="#333"/>
<circle cx="344.00" cy="86.64" r="0.95" fill="#333"/>
<circle cx="348.00" cy="90.45" r="0.95" fill="#333"/>
<circle cx="353.50" cy="92.49" r="0.95" fill="#333"/>
<circle cx="347.00" cy="92.72" r="0.95" fill="#333"/>
<circle cx="357.00" cy="84.85" r="0.95" fill="#333"/>
<circle cx="353.50" cy="83.63" r="0.95" fill="#333"/>
<circle cx="349.00" cy="94.66" r="0.95" fill="#333"/>
<circle cx="351.00" cy="81.29" r="0.95" fill="#333"/>
<circle cx="348.50" cy="83.02" r="0.95" fill="#333"/>
<circle cx="355.00" cy="81.55" r="0.95" fill="#333"/>
<circle cx="355.39" cy="85.60" r="0.95" fill="#333"/>
<circle cx="345.50" cy="83.82" r="0.95" fill="#333"/>
<circle cx="344.89" cy="85.35" r="0.95" fill="#333"/>
<circle cx="356.00" cy="92.97" r="0.95" fill="#333"/>
<circle cx="348.50" cy="80.39" r="0.95" fill="#333"/>
<circle cx="344.50" cy="92.49" r="0.95" fill="#333"/>
<circle cx="353.00" cy="79.87" r="0.95" fill="#333"/>
<circle cx="346.00" cy="81.35" r="0.95" fill="#333"/>
<circle cx="345.13" cy="83.68" r="0.95" fill="#333"/>
<circle cx="351.00" cy="97.01" r="0.95" fill="#333"/>
<circle cx="353.00" cy="95.22" r="0.95" fill="#333"/>
<circle cx="357.50" cy="80.37" r="0.95" fill="#333"/>
<circle cx="347.66" cy="81.63" r="0.95" fill="#333"/>
<circle cx="353.50" cy="97.73" r="0.95" fill="#333"/>
<circle cx="348.70" cy="82.45" r="0.95" fill="#333"/>
<circle cx="348.50" cy="97.71" r="0.95" fill="#333"/>
<circle cx="347.72" cy="81.66" r="0.95" fill="#333"/>
<circle cx="351.00" cy="100.26" r="0.95" fill="#333"/>
<circle cx="351.00" cy="77.63" r="0.95" fill="#333"/>
<circle cx="348.50" cy="77.78" r="0.95" fill="#333"/>
<circle cx="356.00" cy="97.50" r="0.95" fill="#333"/>
<circle cx="346.50" cy="98.97" r="0.95" fill="#333"/>
<circle cx="346.00" cy="96.53" r="0.95" fill="#333"/>
<circle cx="354.50" cy="100.00" r="0.95" fill="#333"/>
<circle cx="356.67" cy="96.67" r="0.95" fill="#333"/>
<circle cx="344.00" cy="98.67" r="0.95" fill="#333"/>
<circle cx="348.50" cy="101.36" r="0.95" fill="#333"/>
<circle cx="351.00" cy="75.13" r="0.95" fill="#333"/>
<circle cx="357.00" cy="101.06" r="0.95" fill="#333"/>
<circle cx="348.60" cy="99.41" r="0.95" fill="#333"/>
<circle cx="353.50" cy="74.74" r="0.95" fill="#333"/>
<circle cx="349.00" cy="73.83" r="0.95" fill="#333"/>
<circle cx="346.50" cy="72.99" r="0.95" fill="#333"/>
<circle cx="351.50" cy="72.74" r="0.95" fill="#333"/>
<circle cx="355.00" cy="72.62" r="0.95" fill="#333"/>
<circle cx="347.00" cy="75.52" r="0.95" fill="#333"/>
<circle cx="352.50" cy="102.10" r="0.95" fill="#333"/>
<circle cx="351.00" cy="104.29" r="0.95" fill="#333"/>
<circle cx="348.50" cy="104.82" r="0.95" fill="#333"/>
<circle cx="357.50" cy="71.59" r="0.95" fill="#333"/>
<circle cx="350.00" cy="70.72" r="0.95" fill="#333"/>
<circle cx="352.50" cy="106.32" r="0.95" fill="#333"/>
<circle cx="344.00" cy="72.23" r="0.95" fill="#333"/>
<circle cx="355.00" cy="106.26" r="0.95" fill="#333"/>
<circle cx="351.00" cy="108.99" r="0.95" fill="#333"/>
<circle cx="352.50" cy="70.23" r="0.95" fill="#333"/>
<circle cx="347.50" cy="69.94" r="0.95" fill="#333"/>
<circle cx="353.50" cy="109.91" r="0.95" fill="#333"/>
<circle cx="351.00" cy="111.46" r="0.95" fill="#333"/>
<circle cx="348.50" cy="110.06" r="0.95" fill="#333"/>
<circle cx="356.00" cy="109.08" r="0.95" fill="#333"/>
<circle cx="354.50" cy="68.92" r="0.95" fill="#333"/>
<circle cx="346.50" cy="108.29" r="0.95" fill="#333"/>
<circle cx="344.00" cy="108.59" r="0.95" fill="#333"/>
<circle cx="358.00" cy="110.39" r="0.95" fill="#333"/>
<circle cx="351.00" cy="64.83" r="0.95" fill="#333"/>
<circle cx="352.50" cy="113.53" r="0.95" fill="#333"/>
<circle cx="349.00" cy="113.10" r="0.95" fill="#333"/>
<circle cx="351.00" cy="55.00" r="0.95" fill="#333"/>
<circle cx="349.50" cy="53.00" r="0.95" fill="#333"/>
<circle cx="351.00" cy="50.20" r="0.95" fill="#333"/>
<line x1="351.00" y1="76.50" x2="351.00" y2="103.00" stroke="#444" stroke-width="1.2"/>
<line x1="347.40" y1="76.50" x2="354.60" y2="76.50" stroke="#222" stroke-width="1.1"/>
<line x1="347.40" y1="103.00" x2="354.60" y2="103.00" stroke="#222" stroke-width="1.1"/>
<line x1="343.70" y1="89.80" x2="358.30" y2="89.80" stroke="#000" stroke-width="1.6"/>
<circle cx="373.25" cy="101.30" r="0.95" fill="#333"/>
<circle cx="373.75" cy="99.00" r="0.95" fill="#333"/>
<circle cx="373.25" cy="96.00" r="0.95" fill="#333"/>
<circle cx="373.25" cy="104.00" r="0.95" fill="#333"/>
<circle cx="373.25" cy="130.70" r="0.95" fill="#333"/>
<circle cx="373.25" cy="56.00" r="0.95" fill="#333"/>
<line x1="373.25" y1="78.50" x2="373.25" y2="119.40" stroke="#444" stroke-width="1.2"/>
<line x1="369.65" y1="78.50" x2="376.85" y2="78.50" stroke="#222" stroke-width="1.1"/>
<line x1="369.65" y1="119.40" x2="376.85" y2="119.40" stroke="#222" stroke-width="1.1"/>
<line x1="365.95" y1="98.80" x2="380.55" y2="98.80" stroke="#000" stroke-width="1.6"/>
<circle cx="395.20" cy="128.00" r="0.95" fill="#333"/>
<circle cx="395.20" cy="136.00" r="0.95" fill="#333"/>
<circle cx="395.20" cy="120.00" r="0.95" fill="#333"/>
<circle cx="395.20" cy="147.20" r="0.95" fill="#333"/>
<circle cx="397.20" cy="148.80" r="0.95" fill="#333"/>
<circle cx="395.20" cy="105.40" r="0.95" fill="#333"/>
<line x1="395.20" y1="113.80" x2="395.20" y2="143.20" stroke="#444" stroke-width="1.2"/>
<line x1="391.60" y1="113.80" x2="398.80" y2="113.80" stroke="#222" stroke-width="1.1"/>
<line x1="391.60" y1="143.20" x2="398.80" y2="143.20" stroke="#222" stroke-width="1.1"/>
<line x1="387.90" y1="128.70" x2="402.50" y2="128.70" stroke="#000" stroke-width="1.6"/>
<circle cx="440.00" cy="107.54" r="0.95" fill="#333"/>
<circle cx="442.50" cy="107.34" r="0.95" fill="#333"/>
<circle cx="437.50" cy="106.90" r="0.95" fill="#333"/>
<circle cx="444.50" cy="105.85" r="0.95" fill="#333"/>
<circle cx="435.00" cy="107.44" r="0.95" fill="#333"/>
<circle cx="440.00" cy="104.96" r="0.95" fill="#333"/>
<circle cx="445.50" cy="108.02" r="0.95" fill="#333"/>
<circle cx="440.00" cy="110.49" r="0.95" fill="#333"/>
<circle cx="443.27" cy="107.80" r="0.95" fill="#333"/>
<circle cx="442.50" cy="104.56" r="0.95" fill="#333"/>
<circle cx="435.75" cy="106.39" r="0.95" fill="#333"/>
<circle cx="437.50" cy="110.01" r="0.95" fill="#333"/>
<circle cx="435.89" cy="107.93" r="0.95" fill="#333"/>
<circle cx="439.49" cy="107.78" r="0.95" fill="#333"/>
<circle cx="433.00" cy="109.03" r="0.95" fill="#333"/>
<circle cx="433.50" cy="104.89" r="0.95" fill="#333"/>
<circle cx="438.00" cy="103.47" r="0.95" fill="#333"/>
<circle cx="440.01" cy="108.04" r="0.95" fill="#333"/>
<circle cx="441.00" cy="102.71" r="0.95" fill="#333"/>
<circle cx="442.50" cy="110.49" r="0.95" fill="#333"/>
<circle cx="445.00" cy="110.56" r="0.95" fill="#333"/>
<circle cx="440.00" cy="112.93" r="0.95" fill="#333"/>
<circle cx="438.50" cy="114.91" r="0.95" fill="#333"/>
<circle cx="433.08" cy="109.58" r="0.95" fill="#333"/>
<circle cx="439.50" cy="100.77" r="0.95" fill="#333"/>
<circle cx="441.50" cy="114.78" r="0.95" fill="#333"/>
<circle cx="440.00" cy="95.23" r="0.95" fill="#333"/>
<circle cx="441.50" cy="97.19" r="0.95" fill="#333"/>
<circle cx="437.50" cy="95.18" r="0.95" fill="#333"/>
<circle cx="439.00" cy="98.41" r="0.95" fill="#333"/>
<circle cx="442.50" cy="94.91" r="0.95" fill="#333"/>
<circle cx="435.50" cy="96.69" r="0.95" fill="#333"/>
<circle cx="444.50" cy="96.66" r="0.95" fill="#333"/>
<circle cx="440.00" cy="117.53" r="0.95" fill="#333"/>
<circle cx="440.00" cy="120.49" r="0.95" fill="#333"/>
<circle cx="447.00" cy="97.26" r="0.95" fill="#333"/>
<circle cx="433.50" cy="95.03" r="0.95" fill="#333"/>
<circle cx="442.50" cy="119.28" r="0.95" fill="#333"/>
<circle cx="437.50" cy="118.33" r="0.95" fill="#333"/>
<circle cx="445.00" cy="94.17" r="0.95" fill="#333"/>
<circle cx="440.00" cy="122.87" r="0.95" fill="#333"/>
<circle cx="440.00" cy="126.94" r="0.95" fill="#333"/>
<circle cx="440.00" cy="129.95" r="0.95" fill="#333"/>
<circle cx="438.00" cy="128.60" r="0.95" fill="#333"/>
<circle cx="442.50" cy="129.63" r="0.95" fill="#333"/>
<circle cx="440.00" cy="84.10" r="0.95" fill="#333"/>
<circle cx="440.00" cy="76.30" r="0.95" fill="#333"/>
<line x1="440.00" y1="95.40" x2="440.00" y2="123.20" stroke="#444" stroke-width="1.2"/>
<line x1="436.40" y1="95.40" x2="443.60" y2="95.40" stroke="#222" stroke-width="1.1"/>
<line x1="436.40" y1="123.20" x2="443.60" y2="123.20" stroke="#222" stroke-width="1.1"/>
<line x1="432.70" y1="109.50" x2="447.30" y2="109.50" stroke="#000" stroke-width="1.6"/>
<circle cx="462.25" cy="118.77" r="0.95" fill="#333"/>
<circle cx="460.75" cy="116.79" r="0.95" fill="#333"/>
<circle cx="459.75" cy="119.46" r="0.95" fill="#333"/>
<circle cx="463.75" cy="120.65" r="0.95" fill="#333"/>
<circle cx="466.25" cy="120.53" r="0.95" fill="#333"/>
<circle cx="457.25" cy="120.22" r="0.95" fill="#333"/>
<circle cx="463.75" cy="116.81" r="0.95" fill="#333"/>
<circle cx="468.75" cy="119.62" r="0.95" fill="#333"/>
<circle cx="455.25" cy="118.43" r="0.95" fill="#333"/>
<circle cx="459.46" cy="119.03" r="0.95" fill="#333"/>
<circle cx="466.25" cy="117.42" r="0.95" fill="#333"/>
<circle cx="457.91" cy="119.29" r="0.95" fill="#333"/>
<circle cx="462.25" cy="114.48" r="0.95" fill="#333"/>
<circle cx="462.25" cy="122.63" r="0.95" fill="#333"/>
<circle cx="458.25" cy="115.69" r="0.95" fill="#333"/>
<circle cx="464.25" cy="113.22" r="0.95" fill="#333"/>
<circle cx="458.23" cy="118.16" r="0.95" fill="#333"/>
<circle cx="468.25" cy="116.05" r="0.95" fill="#333"/>
<circle cx="464.75" cy="123.05" r="0.95" fill="#333"/>
<circle cx="464.54" cy="118.49" r="0.95" fill="#333"/>
<circle cx="459.75" cy="113.31" r="0.95" fill="#333"/>
<circle cx="455.75" cy="116.07" r="0.95" fill="#333"/>
<circle cx="466.75" cy="112.28" r="0.95" fill="#333"/>
<circle cx="460.41" cy="116.79" r="0.95" fill="#333"/>
<circle cx="466.26" cy="120.67" r="0.95" fill="#333"/>
<circle cx="467.32" cy="115.67" r="0.95" fill="#333"/>
<circle cx="459.75" cy="123.44" r="0.95" fill="#333"/>
<circle cx="457.25" cy="123.90" r="0.95" fill="#333"/>
<circle cx="457.25" cy="112.22" r="0.95" fill="#333"/>
<circle cx="469.25" cy="112.49" r="0.95" fill="#333"/>
<circle cx="467.25" cy="122.89" r="0.95" fill="#333"/>
<circle cx="463.18" cy="116.61" r="0.95" fill="#333"/>
<circle cx="462.22" cy="123.46" r="0.95" fill="#333"/>
<circle cx="466.80" cy="123.70" r="0.95" fill="#333"/>
<circle cx="455.25" cy="122.52" r="0.95" fill="#333"/>
<circle cx="461.50" cy="122.20" r="0.95" fill="#333"/>
<circle cx="464.77" cy="122.67" r="0.95" fill="#333"/>
<circle cx="462.25" cy="111.79" r="0.95" fill="#333"/>
<circle cx="462.25" cy="109.37" r="0.95" fill="#333"/>
<circle cx="462.93" cy="112.94" r="0.95" fill="#333"/>
<circle cx="464.27" cy="112.57" r="0.95" fill="#333"/>
<circle cx="459.75" cy="110.42" r="0.95" fill="#333"/>
<circle cx="462.25" cy="126.20" r="0.95" fill="#333"/>
<circle cx="461.23" cy="123.84" r="0.95" fill="#333"/>
<circle cx="464.82" cy="112.19" r="0.95" fill="#333"/>
<circle cx="469.06" cy="111.71" r="0.95" fill="#333"/>
<circle cx="464.75" cy="126.41" r="0.95" fill="#333"/>
<circle cx="467.42" cy="111.62" r="0.95" fill="#333"/>
<circle cx="463.25" cy="107.16" r="0.95" fill="#333"/>
<circle cx="460.75" cy="106.69" r="0.95" fill="#333"/>
<circle cx="459.75" cy="126.38" r="0.95" fill="#333"/>
<circle cx="461.25" cy="128.48" r="0.95" fill="#333"/>
<circle cx="464.75" cy="109.06" r="0.95" fill="#333"/>
<circle cx="463.75" cy="129.60" r="0.95" fill="#333"/>
<circle cx="467.25" cy="126.68" r="0.95" fill="#333"/>
<circle cx="458.75" cy="129.12" r="0.95" fill="#333"/>
<circle cx="466.25" cy="130.28" r="0.95" fill="#333"/>
<circle cx="456.25" cy="129.85" r="0.95" fill="#333"/>
<circle cx="468.75" cy="130.65" r="0.95" fill="#333"/>
<circle cx="465.75" cy="106.40" r="0.95" fill="#333"/>
<circle cx="462.25" cy="135.46" r="0.95" fill="#333"/>
<circle cx="459.75" cy="134.71" r="0.95" fill="#333"/>
<circle cx="462.25" cy="101.33" r="0.95" fill="#333"/>
<circle cx="464.75" cy="135.26" r="0.95" fill="#333"/>
<circle cx="467.25" cy="134.88" r="0.95" fill="#333"/>
<circle cx="457.25" cy="134.17" r="0.95" fill="#333"/>
<circle cx="455.25" cy="135.91" r="0.95" fill="#333"/>
<circle cx="467.62" cy="135.31" r="0.95" fill="#333"/>
<circle cx="458.25" cy="136.74" r="0.95" fill="#333"/>
<circle cx="462.25" cy="98.60" r="0.95" fill="#333"/>
<circle cx="459.62" cy="136.86" r="0.95" fill="#333"/>
<circle cx="464.75" cy="98.40" r="0.95" fill="#333"/>
<circle cx="459.75" cy="99.26" r="0.95" fill="#333"/>
<circle cx="458.25" cy="97.44" r="0.95" fill="#333"/>
<circle cx="462.25" cy="141.00" r="0.95" fill="#333"/>
<circle cx="462.25" cy="95.69" r="0.95" fill="#333"/>
<circle cx="460.75" cy="139.00" r="0.95" fill="#333"/>
<circle cx="462.25" cy="144.00" r="0.95" fill="#333"/>
<circle cx="462.25" cy="89.79" r="0.95" fill="#333"/>
<circle cx="462.25" cy="148.00" r="0.95" fill="#333"/>
<circle cx="463.75" cy="146.00" r="0.95" fill="#333"/>
<circle cx="459.75" cy="88.62" r="0.95" fill="#333"/>
<circle cx="462.25" cy="86.42" r="0.95" fill="#333"/>
<circle cx="464.25" cy="88.11" r="0.95" fill="#333"/>
<circle cx="460.25" cy="84.96" r="0.95" fill="#333"/>
<circle cx="462.25" cy="65.60" r="0.95" fill="#333"/>
<line x1="462.25" y1="103.00" x2="462.25" y2="133.80" stroke="#444" stroke-width="1.2"/>
<line x1="458.65" y1="103.00" x2="465.85" y2="103.00" stroke="#222" stroke-width="1.1"/>
<line x1="458.65" y1="133.80" x2="465.85" y2="133.80" stroke="#222" stroke-width="1.1"/>
<line x1="454.95" y1="118.60" x2="469.55" y2="118.60" stroke="#000" stroke-width="1.6"/>
<circle cx="483.50" cy="115.00" r="0.95" fill="#333"/>
<circle cx="483.50" cy="123.20" r="0.95" fill="#333"/>
<circle cx="484.50" cy="121.00" r="0.95" fill="#333"/>
<circle cx="483.50" cy="108.40" r="0.95" fill="#333"/>
<circle cx="483.50" cy="131.50" r="0.95" fill="#333"/>
<circle cx="483.50" cy="135.10" r="0.95" fill="#333"/>
<circle cx="483.50" cy="100.80" r="0.95" fill="#333"/>
<line x1="483.50" y1="109.60" x2="483.50" y2="132.60" stroke="#444" stroke-width="1.2"/>
<line x1="479.90" y1="109.60" x2="487.10" y2="109.60" stroke="#222" stroke-width="1.1"/>
<line x1="479.90" y1="132.60" x2="487.10" y2="132.60" stroke="#222" stroke-width="1.1"/>
<line x1="476.20" y1="121.70" x2="490.80" y2="121.70" stroke="#000" stroke-width="1.6"/>
<circle cx="506.05" cy="125.00" r="0.95" fill="#333"/>
<circle cx="506.05" cy="119.70" r="0.95" fill="#333"/>
<circle cx="506.05" cy="140.00" r="0.95" fill="#333"/>
<circle cx="506.05" cy="113.30" r="0.95" fill="#333"/>
<circle cx="506.05" cy="148.00" r="0.95" fill="#333"/>
<line x1="506.05" y1="118.00" x2="506.05" y2="146.40" stroke="#444" stroke-width="1.2"/>
<line x1="502.45" y1="118.00" x2="509.65" y2="118.00" stroke="#222" stroke-width="1.1"/>
<line x1="502.45" y1="146.40" x2="509.65" y2="146.40" stroke="#222" stroke-width="1.1"/>
<line x1="498.75" y1="132.20" x2="513.35" y2="132.20" stroke="#000" stroke-width="1.6"/>
<line x1="328.75" y1="107.50" x2="328.75" y2="156.40" stroke="#7c7c7c" stroke-width="1.3"/>
<line x1="328.75" y1="126.30" x2="351.00" y2="126.30" stroke="#7c7c7c" stroke-width="1.3"/>
<line x1="351.00" y1="118.75" x2="351.00" y2="126.30" stroke="#7c7c7c" stroke-width="1.3"/>
<text x="340.25" y="124.60" font-size="7.6" font-weight="bold" text-anchor="middle" fill="#000" letter-spacing="0.7">ns</text>
<line x1="328.75" y1="142.00" x2="373.25" y2="142.00" stroke="#7c7c7c" stroke-width="1.3"/>
<line x1="373.25" y1="134.20" x2="373.25" y2="142.00" stroke="#7c7c7c" stroke-width="1.3"/>
<text x="352.90" y="142.80" font-size="8" font-weight="bold" text-anchor="middle" fill="#000">*</text>
<line x1="328.75" y1="156.40" x2="395.50" y2="156.40" stroke="#7c7c7c" stroke-width="1.3"/>
<line x1="395.50" y1="149.40" x2="395.50" y2="156.40" stroke="#7c7c7c" stroke-width="1.3"/>
<text x="364.70" y="156.80" font-size="8" font-weight="bold" text-anchor="middle" fill="#000">****</text>
<line x1="440.00" y1="132.00" x2="440.00" y2="160.50" stroke="#7c7c7c" stroke-width="1.3"/>
<line x1="440.00" y1="155.30" x2="462.25" y2="155.30" stroke="#7c7c7c" stroke-width="1.3"/>
<line x1="462.25" y1="149.20" x2="462.25" y2="155.30" stroke="#7c7c7c" stroke-width="1.3"/>
<text x="451.00" y="155.30" font-size="8" font-weight="bold" text-anchor="middle" fill="#000">**</text>
<line x1="440.00" y1="157.90" x2="484.50" y2="157.90" stroke="#7c7c7c" stroke-width="1.3"/>
<line x1="484.50" y1="136.00" x2="484.50" y2="157.90" stroke="#7c7c7c" stroke-width="1.3"/>
<text x="475.75" y="157.20" font-size="7.6" font-weight="bold" text-anchor="middle" fill="#000" letter-spacing="0.7">ns</text>
<line x1="440.00" y1="160.50" x2="506.75" y2="160.50" stroke="#7c7c7c" stroke-width="1.3"/>
<line x1="506.75" y1="149.20" x2="506.75" y2="160.50" stroke="#7c7c7c" stroke-width="1.3"/>
<text x="495.70" y="160.60" font-size="8" font-weight="bold" text-anchor="middle" fill="#000">***</text>
<line x1="41.50" y1="236.00" x2="41.50" y2="370.20" stroke="#000" stroke-width="1.5"/>
<line x1="38.00" y1="369.50" x2="241.50" y2="369.50" stroke="#000" stroke-width="1.5"/>
<line x1="38.00" y1="369.50" x2="41.50" y2="369.50" stroke="#000" stroke-width="1.3"/>
<text x="0" y="0" font-size="9.8" font-weight="bold" text-anchor="end" fill="#000" transform="translate(36.80 373.05) scale(1 1.06)">0</text>
<line x1="38.00" y1="342.90" x2="41.50" y2="342.90" stroke="#000" stroke-width="1.3"/>
<text x="0" y="0" font-size="9.8" font-weight="bold" text-anchor="end" fill="#000" transform="translate(36.80 346.45) scale(1 1.06)">50</text>
<line x1="38.00" y1="316.30" x2="41.50" y2="316.30" stroke="#000" stroke-width="1.3"/>
<text x="0" y="0" font-size="9.8" font-weight="bold" text-anchor="end" fill="#000" transform="translate(36.80 319.85) scale(1 1.06)">100</text>
<line x1="38.00" y1="289.70" x2="41.50" y2="289.70" stroke="#000" stroke-width="1.3"/>
<text x="0" y="0" font-size="9.8" font-weight="bold" text-anchor="end" fill="#000" transform="translate(36.80 293.25) scale(1 1.06)">150</text>
<line x1="38.00" y1="263.10" x2="41.50" y2="263.10" stroke="#000" stroke-width="1.3"/>
<text x="0" y="0" font-size="9.8" font-weight="bold" text-anchor="end" fill="#000" transform="translate(36.80 266.65) scale(1 1.06)">200</text>
<line x1="38.00" y1="236.50" x2="41.50" y2="236.50" stroke="#000" stroke-width="1.3"/>
<text x="0" y="0" font-size="9.8" font-weight="bold" text-anchor="end" fill="#000" transform="translate(36.80 240.05) scale(1 1.06)">250</text>
<line x1="53.00" y1="369.50" x2="53.00" y2="373.00" stroke="#000" stroke-width="1.3"/>
<line x1="75.20" y1="369.50" x2="75.20" y2="373.00" stroke="#000" stroke-width="1.3"/>
<line x1="97.40" y1="369.50" x2="97.40" y2="373.00" stroke="#000" stroke-width="1.3"/>
<line x1="119.60" y1="369.50" x2="119.60" y2="373.00" stroke="#000" stroke-width="1.3"/>
<line x1="141.80" y1="369.50" x2="141.80" y2="373.00" stroke="#000" stroke-width="1.3"/>
<line x1="164.00" y1="369.50" x2="164.00" y2="373.00" stroke="#000" stroke-width="1.3"/>
<line x1="186.20" y1="369.50" x2="186.20" y2="373.00" stroke="#000" stroke-width="1.3"/>
<line x1="208.40" y1="369.50" x2="208.40" y2="373.00" stroke="#000" stroke-width="1.3"/>
<line x1="230.60" y1="369.50" x2="230.60" y2="373.00" stroke="#000" stroke-width="1.3"/>
<text x="0" y="0" font-size="7.5" font-weight="bold" text-anchor="end" fill="#000" transform="translate(52.90 380.90) rotate(-45)">Control</text>
<text x="0" y="0" font-size="7.5" font-weight="bold" text-anchor="end" fill="#000" transform="translate(75.40 380.90) rotate(-45)">Partial</text>
<text x="0" y="0" font-size="7.5" font-weight="bold" text-anchor="end" fill="#000" transform="translate(97.90 380.40) rotate(-45)">Major 1</text>
<text x="0" y="0" font-size="7.5" font-weight="bold" text-anchor="end" fill="#000" transform="translate(120.80 379.10) rotate(-45)">Major 2</text>
<text x="0" y="0" font-size="7.5" font-weight="bold" text-anchor="end" fill="#000" transform="translate(163.90 380.90) rotate(-45)">Control</text>
<text x="0" y="0" font-size="7.5" font-weight="bold" text-anchor="end" fill="#000" transform="translate(186.40 380.90) rotate(-45)">Partial</text>
<text x="0" y="0" font-size="7.5" font-weight="bold" text-anchor="end" fill="#000" transform="translate(208.90 380.40) rotate(-45)">Major 1</text>
<text x="0" y="0" font-size="7.5" font-weight="bold" text-anchor="end" fill="#000" transform="translate(231.80 379.10) rotate(-45)">Major 2</text>
<text x="0.50" y="225.30" font-size="17.5" font-weight="bold" text-anchor="start" fill="#000">C</text>
<text x="0" y="0" font-size="9.8" font-weight="bold" text-anchor="middle" fill="#000" transform="translate(141.80 220.90) scale(1 1.1)">PRP TF 5pm</text>
<polyline points="53.00,247.30 53.00,242.60 121.00,242.60 121.00,247.30" fill="none" stroke="#7c7c7c" stroke-width="1.3"/>
<text x="0" y="0" font-size="7.3" font-weight="bold" text-anchor="middle" fill="#000" transform="translate(87.55 239.40) scale(1 1.08)">No CTI</text>
<polyline points="163.30,247.70 163.30,243.20 231.20,243.20 231.20,247.70" fill="none" stroke="#7c7c7c" stroke-width="1.3"/>
<text x="0" y="0" font-size="7.3" font-weight="bold" text-anchor="middle" fill="#000" transform="translate(197.75 240.00) scale(1 1.08)">CTI</text>
<text x="0" y="0" font-size="9.85" font-weight="bold" text-anchor="middle" fill="#000" transform="translate(13.60 302.90) rotate(-90)">Peak Height (nM)</text>
<circle cx="53.00" cy="304.06" r="0.95" fill="#333"/>
<circle cx="55.50" cy="303.07" r="0.95" fill="#333"/>
<circle cx="50.50" cy="304.24" r="0.95" fill="#333"/>
<circle cx="53.00" cy="306.97" r="0.95" fill="#333"/>
<circle cx="49.00" cy="302.36" r="0.95" fill="#333"/>
<circle cx="55.50" cy="307.52" r="0.95" fill="#333"/>
<circle cx="57.50" cy="304.51" r="0.95" fill="#333"/>
<circle cx="50.50" cy="306.76" r="0.95" fill="#333"/>
<circle cx="53.00" cy="300.18" r="0.95" fill="#333"/>
<circle cx="48.50" cy="308.18" r="0.95" fill="#333"/>
<circle cx="48.00" cy="305.38" r="0.95" fill="#333"/>
<circle cx="60.00" cy="304.43" r="0.95" fill="#333"/>
<circle cx="52.00" cy="309.24" r="0.95" fill="#333"/>
<circle cx="50.53" cy="304.82" r="0.95" fill="#333"/>
<circle cx="54.50" cy="310.12" r="0.95" fill="#333"/>
<circle cx="53.00" cy="296.03" r="0.95" fill="#333"/>
<circle cx="57.00" cy="310.25" r="0.95" fill="#333"/>
<circle cx="52.74" cy="306.35" r="0.95" fill="#333"/>
<circle cx="55.50" cy="296.08" r="0.95" fill="#333"/>
<circle cx="49.50" cy="310.37" r="0.95" fill="#333"/>
<circle cx="51.00" cy="294.34" r="0.95" fill="#333"/>
<circle cx="58.00" cy="306.87" r="0.95" fill="#333"/>
<circle cx="47.00" cy="311.03" r="0.95" fill="#333"/>
<circle cx="51.50" cy="298.35" r="0.95" fill="#333"/>
<circle cx="59.50" cy="310.51" r="0.95" fill="#333"/>
<circle cx="48.20" cy="310.29" r="0.95" fill="#333"/>
<circle cx="49.50" cy="296.21" r="0.95" fill="#333"/>
<circle cx="53.00" cy="312.36" r="0.95" fill="#333"/>
<circle cx="53.50" cy="293.55" r="0.95" fill="#333"/>
<circle cx="57.50" cy="297.35" r="0.95" fill="#333"/>
<circle cx="57.00" cy="294.05" r="0.95" fill="#333"/>
<circle cx="47.00" cy="296.13" r="0.95" fill="#333"/>
<circle cx="53.00" cy="315.97" r="0.95" fill="#333"/>
<circle cx="53.00" cy="290.70" r="0.95" fill="#333"/>
<circle cx="52.33" cy="311.18" r="0.95" fill="#333"/>
<circle cx="59.00" cy="295.34" r="0.95" fill="#333"/>
<circle cx="50.50" cy="316.35" r="0.95" fill="#333"/>
<circle cx="55.50" cy="290.55" r="0.95" fill="#333"/>
<circle cx="55.50" cy="315.73" r="0.95" fill="#333"/>
<circle cx="50.50" cy="291.25" r="0.95" fill="#333"/>
<circle cx="53.00" cy="286.33" r="0.95" fill="#333"/>
<circle cx="57.50" cy="317.38" r="0.95" fill="#333"/>
<circle cx="48.00" cy="317.29" r="0.95" fill="#333"/>
<circle cx="53.50" cy="284.01" r="0.95" fill="#333"/>
<circle cx="53.00" cy="325.00" r="0.95" fill="#333"/>
<circle cx="54.50" cy="323.00" r="0.95" fill="#333"/>
<circle cx="53.00" cy="281.00" r="0.95" fill="#333"/>
<circle cx="53.00" cy="270.60" r="0.95" fill="#333"/>
<line x1="53.00" y1="293.60" x2="53.00" y2="318.50" stroke="#444" stroke-width="1.2"/>
<line x1="49.40" y1="293.60" x2="56.60" y2="293.60" stroke="#222" stroke-width="1.1"/>
<line x1="49.40" y1="318.50" x2="56.60" y2="318.50" stroke="#222" stroke-width="1.1"/>
<line x1="45.70" y1="305.90" x2="60.30" y2="305.90" stroke="#000" stroke-width="1.6"/>
<circle cx="75.20" cy="304.58" r="0.95" fill="#333"/>
<circle cx="73.20" cy="305.98" r="0.95" fill="#333"/>
<circle cx="75.20" cy="308.06" r="0.95" fill="#333"/>
<circle cx="77.70" cy="307.47" r="0.95" fill="#333"/>
<circle cx="71.20" cy="307.70" r="0.95" fill="#333"/>
<circle cx="78.70" cy="305.27" r="0.95" fill="#333"/>
<circle cx="69.70" cy="305.71" r="0.95" fill="#333"/>
<circle cx="80.20" cy="307.15" r="0.95" fill="#333"/>
<circle cx="81.51" cy="307.47" r="0.95" fill="#333"/>
<circle cx="75.20" cy="301.34" r="0.95" fill="#333"/>
<circle cx="77.70" cy="302.10" r="0.95" fill="#333"/>
<circle cx="72.70" cy="300.52" r="0.95" fill="#333"/>
<circle cx="71.20" cy="302.54" r="0.95" fill="#333"/>
<circle cx="80.20" cy="301.17" r="0.95" fill="#333"/>
<circle cx="75.20" cy="298.75" r="0.95" fill="#333"/>
<circle cx="81.70" cy="303.24" r="0.95" fill="#333"/>
<circle cx="75.20" cy="312.79" r="0.95" fill="#333"/>
<circle cx="77.70" cy="299.02" r="0.95" fill="#333"/>
<circle cx="70.20" cy="300.15" r="0.95" fill="#333"/>
<circle cx="69.20" cy="309.10" r="0.95" fill="#333"/>
<circle cx="73.20" cy="297.07" r="0.95" fill="#333"/>
<circle cx="75.36" cy="301.25" r="0.95" fill="#333"/>
<circle cx="81.02" cy="309.22" r="0.95" fill="#333"/>
<circle cx="68.70" cy="302.06" r="0.95" fill="#333"/>
<circle cx="72.70" cy="312.04" r="0.95" fill="#333"/>
<circle cx="81.70" cy="299.19" r="0.95" fill="#333"/>
<circle cx="77.70" cy="313.39" r="0.95" fill="#333"/>
<circle cx="79.96" cy="299.54" r="0.95" fill="#333"/>
<circle cx="77.20" cy="309.83" r="0.95" fill="#333"/>
<circle cx="70.20" cy="312.69" r="0.95" fill="#333"/>
<circle cx="75.88" cy="299.48" r="0.95" fill="#333"/>
<circle cx="68.20" cy="298.64" r="0.95" fill="#333"/>
<circle cx="73.20" cy="309.61" r="0.95" fill="#333"/>
<circle cx="75.20" cy="315.16" r="0.95" fill="#333"/>
<circle cx="79.70" cy="311.88" r="0.95" fill="#333"/>
<circle cx="75.70" cy="296.18" r="0.95" fill="#333"/>
<circle cx="72.70" cy="314.49" r="0.95" fill="#333"/>
<circle cx="71.59" cy="299.17" r="0.95" fill="#333"/>
<circle cx="82.20" cy="311.34" r="0.95" fill="#333"/>
<circle cx="75.37" cy="311.55" r="0.95" fill="#333"/>
<circle cx="68.20" cy="311.43" r="0.95" fill="#333"/>
<circle cx="77.70" cy="316.09" r="0.95" fill="#333"/>
<circle cx="75.20" cy="293.02" r="0.95" fill="#333"/>
<circle cx="70.47" cy="297.51" r="0.95" fill="#333"/>
<circle cx="70.70" cy="316.11" r="0.95" fill="#333"/>
<circle cx="81.20" cy="313.69" r="0.95" fill="#333"/>
<circle cx="75.08" cy="312.93" r="0.95" fill="#333"/>
<circle cx="73.20" cy="291.55" r="0.95" fill="#333"/>
<circle cx="72.34" cy="313.59" r="0.95" fill="#333"/>
<circle cx="77.70" cy="292.08" r="0.95" fill="#333"/>
<circle cx="73.20" cy="316.89" r="0.95" fill="#333"/>
<circle cx="71.20" cy="293.31" r="0.95" fill="#333"/>
<circle cx="80.20" cy="292.04" r="0.95" fill="#333"/>
<circle cx="68.20" cy="315.10" r="0.95" fill="#333"/>
<circle cx="75.70" cy="317.65" r="0.95" fill="#333"/>
<circle cx="70.70" cy="290.75" r="0.95" fill="#333"/>
<circle cx="78.20" cy="318.62" r="0.95" fill="#333"/>
<circle cx="80.20" cy="317.01" r="0.95" fill="#333"/>
<circle cx="74.20" cy="319.67" r="0.95" fill="#333"/>
<circle cx="68.70" cy="317.58" r="0.95" fill="#333"/>
<circle cx="71.70" cy="319.53" r="0.95" fill="#333"/>
<circle cx="75.20" cy="322.23" r="0.95" fill="#333"/>
<circle cx="75.20" cy="288.77" r="0.95" fill="#333"/>
<circle cx="80.20" cy="320.40" r="0.95" fill="#333"/>
<circle cx="77.65" cy="317.92" r="0.95" fill="#333"/>
<circle cx="72.70" cy="322.06" r="0.95" fill="#333"/>
<circle cx="82.20" cy="319.09" r="0.95" fill="#333"/>
<circle cx="77.70" cy="322.12" r="0.95" fill="#333"/>
<circle cx="73.20" cy="287.22" r="0.95" fill="#333"/>
<circle cx="75.20" cy="284.28" r="0.95" fill="#333"/>
<circle cx="77.20" cy="285.76" r="0.95" fill="#333"/>
<circle cx="73.70" cy="324.21" r="0.95" fill="#333"/>
<circle cx="80.20" cy="322.87" r="0.95" fill="#333"/>
<circle cx="71.70" cy="285.39" r="0.95" fill="#333"/>
<circle cx="75.20" cy="326.16" r="0.95" fill="#333"/>
<circle cx="73.20" cy="283.04" r="0.95" fill="#333"/>
<circle cx="77.70" cy="283.13" r="0.95" fill="#333"/>
<circle cx="77.70" cy="325.13" r="0.95" fill="#333"/>
<circle cx="75.20" cy="334.00" r="0.95" fill="#333"/>
<circle cx="75.20" cy="331.00" r="0.95" fill="#333"/>
<circle cx="75.20" cy="277.00" r="0.95" fill="#333"/>
<circle cx="75.20" cy="270.20" r="0.95" fill="#333"/>
<circle cx="74.20" cy="268.00" r="0.95" fill="#333"/>
<circle cx="75.20" cy="264.90" r="0.95" fill="#333"/>
<circle cx="77.20" cy="266.50" r="0.95" fill="#333"/>
<line x1="75.20" y1="295.00" x2="75.20" y2="322.50" stroke="#444" stroke-width="1.2"/>
<line x1="71.60" y1="295.00" x2="78.80" y2="295.00" stroke="#222" stroke-width="1.1"/>
<line x1="71.60" y1="322.50" x2="78.80" y2="322.50" stroke="#222" stroke-width="1.1"/>
<line x1="67.90" y1="308.70" x2="82.50" y2="308.70" stroke="#000" stroke-width="1.6"/>
<circle cx="97.40" cy="310.00" r="0.95" fill="#333"/>
<circle cx="97.40" cy="315.00" r="0.95" fill="#333"/>
<circle cx="97.40" cy="300.00" r="0.95" fill="#333"/>
<circle cx="97.40" cy="330.00" r="0.95" fill="#333"/>
<circle cx="97.40" cy="333.80" r="0.95" fill="#333"/>
<circle cx="97.40" cy="278.40" r="0.95" fill="#333"/>
<line x1="97.40" y1="294.00" x2="97.40" y2="327.20" stroke="#444" stroke-width="1.2"/>
<line x1="93.80" y1="294.00" x2="101.00" y2="294.00" stroke="#222" stroke-width="1.1"/>
<line x1="93.80" y1="327.20" x2="101.00" y2="327.20" stroke="#222" stroke-width="1.1"/>
<line x1="90.10" y1="310.70" x2="104.70" y2="310.70" stroke="#000" stroke-width="1.6"/>
<circle cx="119.30" cy="321.60" r="0.95" fill="#333"/>
<circle cx="117.80" cy="323.50" r="0.95" fill="#333"/>
<circle cx="119.30" cy="329.70" r="0.95" fill="#333"/>
<circle cx="119.30" cy="333.00" r="0.95" fill="#333"/>
<circle cx="119.30" cy="292.10" r="0.95" fill="#333"/>
<line x1="119.30" y1="307.00" x2="119.30" y2="332.70" stroke="#444" stroke-width="1.2"/>
<line x1="115.70" y1="307.00" x2="122.90" y2="307.00" stroke="#222" stroke-width="1.1"/>
<line x1="115.70" y1="332.70" x2="122.90" y2="332.70" stroke="#222" stroke-width="1.1"/>
<line x1="112.00" y1="320.10" x2="126.60" y2="320.10" stroke="#000" stroke-width="1.6"/>
<circle cx="164.00" cy="302.64" r="0.95" fill="#333"/>
<circle cx="161.50" cy="301.43" r="0.95" fill="#333"/>
<circle cx="165.50" cy="304.76" r="0.95" fill="#333"/>
<circle cx="166.50" cy="301.49" r="0.95" fill="#333"/>
<circle cx="159.50" cy="303.12" r="0.95" fill="#333"/>
<circle cx="164.00" cy="306.82" r="0.95" fill="#333"/>
<circle cx="166.00" cy="308.44" r="0.95" fill="#333"/>
<circle cx="164.00" cy="299.30" r="0.95" fill="#333"/>
<circle cx="160.00" cy="299.54" r="0.95" fill="#333"/>
<circle cx="162.00" cy="304.14" r="0.95" fill="#333"/>
<circle cx="166.50" cy="298.98" r="0.95" fill="#333"/>
<circle cx="165.15" cy="299.93" r="0.95" fill="#333"/>
<circle cx="162.50" cy="297.36" r="0.95" fill="#333"/>
<circle cx="168.00" cy="305.51" r="0.95" fill="#333"/>
<circle cx="164.00" cy="311.40" r="0.95" fill="#333"/>
<circle cx="165.00" cy="297.08" r="0.95" fill="#333"/>
<circle cx="162.00" cy="309.85" r="0.95" fill="#333"/>
<circle cx="164.00" cy="293.05" r="0.95" fill="#333"/>
<circle cx="166.50" cy="311.79" r="0.95" fill="#333"/>
<circle cx="162.00" cy="295.01" r="0.95" fill="#333"/>
<circle cx="159.50" cy="309.51" r="0.95" fill="#333"/>
<circle cx="167.00" cy="295.49" r="0.95" fill="#333"/>
<circle cx="159.50" cy="294.24" r="0.95" fill="#333"/>
<circle cx="164.00" cy="314.13" r="0.95" fill="#333"/>
<circle cx="165.50" cy="291.17" r="0.95" fill="#333"/>
<circle cx="164.00" cy="317.90" r="0.95" fill="#333"/>
<circle cx="161.50" cy="292.49" r="0.95" fill="#333"/>
<circle cx="164.00" cy="287.39" r="0.95" fill="#333"/>
<circle cx="162.00" cy="288.64" r="0.95" fill="#333"/>
<circle cx="167.50" cy="289.40" r="0.95" fill="#333"/>
<circle cx="161.50" cy="315.21" r="0.95" fill="#333"/>
<circle cx="166.50" cy="314.16" r="0.95" fill="#333"/>
<circle cx="166.00" cy="285.71" r="0.95" fill="#333"/>
<circle cx="168.50" cy="315.40" r="0.95" fill="#333"/>
<circle cx="164.00" cy="322.61" r="0.95" fill="#333"/>
<circle cx="166.50" cy="323.02" r="0.95" fill="#333"/>
<circle cx="166.00" cy="319.32" r="0.95" fill="#333"/>
<circle cx="164.00" cy="284.45" r="0.95" fill="#333"/>
<circle cx="164.00" cy="279.79" r="0.95" fill="#333"/>
<circle cx="162.50" cy="324.58" r="0.95" fill="#333"/>
<circle cx="160.00" cy="323.55" r="0.95" fill="#333"/>
<circle cx="164.00" cy="326.62" r="0.95" fill="#333"/>
<circle cx="164.00" cy="275.05" r="0.95" fill="#333"/>
<circle cx="162.50" cy="277.97" r="0.95" fill="#333"/>
<circle cx="165.50" cy="276.95" r="0.95" fill="#333"/>
<circle cx="162.50" cy="328.61" r="0.95" fill="#333"/>
<line x1="164.00" y1="289.40" x2="164.00" y2="318.50" stroke="#444" stroke-width="1.2"/>
<line x1="160.40" y1="289.40" x2="167.60" y2="289.40" stroke="#222" stroke-width="1.1"/>
<line x1="160.40" y1="318.50" x2="167.60" y2="318.50" stroke="#222" stroke-width="1.1"/>
<line x1="156.70" y1="304.50" x2="171.30" y2="304.50" stroke="#000" stroke-width="1.6"/>
<circle cx="186.20" cy="304.64" r="0.95" fill="#333"/>
<circle cx="184.20" cy="303.11" r="0.95" fill="#333"/>
<circle cx="188.70" cy="304.14" r="0.95" fill="#333"/>
<circle cx="182.20" cy="304.60" r="0.95" fill="#333"/>
<circle cx="186.70" cy="302.25" r="0.95" fill="#333"/>
<circle cx="184.20" cy="306.28" r="0.95" fill="#333"/>
<circle cx="188.70" cy="301.00" r="0.95" fill="#333"/>
<circle cx="191.20" cy="303.63" r="0.95" fill="#333"/>
<circle cx="190.20" cy="306.20" r="0.95" fill="#333"/>
<circle cx="179.70" cy="305.39" r="0.95" fill="#333"/>
<circle cx="192.68" cy="304.57" r="0.95" fill="#333"/>
<circle cx="183.74" cy="304.41" r="0.95" fill="#333"/>
<circle cx="181.70" cy="302.06" r="0.95" fill="#333"/>
<circle cx="185.20" cy="300.27" r="0.95" fill="#333"/>
<circle cx="186.20" cy="307.55" r="0.95" fill="#333"/>
<circle cx="191.20" cy="300.75" r="0.95" fill="#333"/>
<circle cx="188.20" cy="309.04" r="0.95" fill="#333"/>
<circle cx="179.20" cy="300.97" r="0.95" fill="#333"/>
<circle cx="185.76" cy="300.62" r="0.95" fill="#333"/>
<circle cx="182.70" cy="308.24" r="0.95" fill="#333"/>
<circle cx="182.70" cy="299.86" r="0.95" fill="#333"/>
<circle cx="192.92" cy="302.71" r="0.95" fill="#333"/>
<circle cx="186.20" cy="311.24" r="0.95" fill="#333"/>
<circle cx="188.70" cy="312.29" r="0.95" fill="#333"/>
<circle cx="192.59" cy="300.46" r="0.95" fill="#333"/>
<circle cx="183.70" cy="312.12" r="0.95" fill="#333"/>
<circle cx="190.17" cy="299.37" r="0.95" fill="#333"/>
<circle cx="181.20" cy="312.33" r="0.95" fill="#333"/>
<circle cx="184.23" cy="300.83" r="0.95" fill="#333"/>
<circle cx="191.20" cy="312.19" r="0.95" fill="#333"/>
<circle cx="193.20" cy="313.51" r="0.95" fill="#333"/>
<circle cx="188.34" cy="313.44" r="0.95" fill="#333"/>
<circle cx="186.20" cy="296.51" r="0.95" fill="#333"/>
<circle cx="188.70" cy="295.85" r="0.95" fill="#333"/>
<circle cx="183.70" cy="296.02" r="0.95" fill="#333"/>
<circle cx="192.70" cy="310.36" r="0.95" fill="#333"/>
<circle cx="190.95" cy="299.10" r="0.95" fill="#333"/>
<circle cx="184.35" cy="299.84" r="0.95" fill="#333"/>
<circle cx="179.20" cy="311.06" r="0.95" fill="#333"/>
<circle cx="190.18" cy="312.13" r="0.95" fill="#333"/>
<circle cx="189.59" cy="312.58" r="0.95" fill="#333"/>
<circle cx="181.20" cy="296.51" r="0.95" fill="#333"/>
<circle cx="191.20" cy="295.44" r="0.95" fill="#333"/>
<circle cx="186.20" cy="318.41" r="0.95" fill="#333"/>
<circle cx="183.70" cy="317.33" r="0.95" fill="#333"/>
<circle cx="188.70" cy="317.47" r="0.95" fill="#333"/>
<circle cx="184.36" cy="295.42" r="0.95" fill="#333"/>
<circle cx="181.20" cy="318.43" r="0.95" fill="#333"/>
<circle cx="191.20" cy="316.52" r="0.95" fill="#333"/>
<circle cx="179.70" cy="316.34" r="0.95" fill="#333"/>
<circle cx="186.20" cy="292.59" r="0.95" fill="#333"/>
<circle cx="193.20" cy="297.80" r="0.95" fill="#333"/>
<circle cx="185.70" cy="313.55" r="0.95" fill="#333"/>
<circle cx="193.20" cy="318.05" r="0.95" fill="#333"/>
<circle cx="183.70" cy="314.82" r="0.95" fill="#333"/>
<circle cx="186.12" cy="295.45" r="0.95" fill="#333"/>
<circle cx="179.20" cy="295.25" r="0.95" fill="#333"/>
<circle cx="188.70" cy="293.05" r="0.95" fill="#333"/>
<circle cx="183.70" cy="292.58" r="0.95" fill="#333"/>
<circle cx="181.19" cy="295.76" r="0.95" fill="#333"/>
<circle cx="188.20" cy="320.06" r="0.95" fill="#333"/>
<circle cx="181.14" cy="316.70" r="0.95" fill="#333"/>
<circle cx="180.46" cy="316.88" r="0.95" fill="#333"/>
<circle cx="184.20" cy="319.99" r="0.95" fill="#333"/>
<circle cx="186.20" cy="321.74" r="0.95" fill="#333"/>
<circle cx="184.70" cy="323.70" r="0.95" fill="#333"/>
<circle cx="182.26" cy="318.44" r="0.95" fill="#333"/>
<circle cx="187.70" cy="323.70" r="0.95" fill="#333"/>
<circle cx="190.20" cy="321.61" r="0.95" fill="#333"/>
<circle cx="181.70" cy="320.80" r="0.95" fill="#333"/>
<circle cx="187.70" cy="290.49" r="0.95" fill="#333"/>
<circle cx="192.70" cy="322.20" r="0.95" fill="#333"/>
<circle cx="182.20" cy="323.29" r="0.95" fill="#333"/>
<circle cx="186.20" cy="288.04" r="0.95" fill="#333"/>
<circle cx="188.70" cy="288.11" r="0.95" fill="#333"/>
<circle cx="186.20" cy="325.85" r="0.95" fill="#333"/>
<circle cx="189.70" cy="324.96" r="0.95" fill="#333"/>
<circle cx="183.20" cy="325.60" r="0.95" fill="#333"/>
<circle cx="186.20" cy="331.00" r="0.95" fill="#333"/>
<circle cx="186.20" cy="284.00" r="0.95" fill="#333"/>
<circle cx="186.20" cy="281.00" r="0.95" fill="#333"/>
<circle cx="187.70" cy="329.00" r="0.95" fill="#333"/>
<circle cx="186.20" cy="334.00" r="0.95" fill="#333"/>
<circle cx="186.20" cy="276.00" r="0.95" fill="#333"/>
<circle cx="186.20" cy="272.00" r="0.95" fill="#333"/>
<circle cx="186.20" cy="269.00" r="0.95" fill="#333"/>
<circle cx="186.20" cy="265.00" r="0.95" fill="#333"/>
<circle cx="186.20" cy="261.70" r="0.95" fill="#333"/>
<line x1="186.20" y1="292.00" x2="186.20" y2="323.75" stroke="#444" stroke-width="1.2"/>
<line x1="182.60" y1="292.00" x2="189.80" y2="292.00" stroke="#222" stroke-width="1.1"/>
<line x1="182.60" y1="323.75" x2="189.80" y2="323.75" stroke="#222" stroke-width="1.1"/>
<line x1="178.90" y1="308.10" x2="193.50" y2="308.10" stroke="#000" stroke-width="1.6"/>
<circle cx="208.00" cy="313.00" r="0.95" fill="#333"/>
<circle cx="205.50" cy="314.00" r="0.95" fill="#333"/>
<circle cx="208.00" cy="284.00" r="0.95" fill="#333"/>
<circle cx="210.00" cy="282.60" r="0.95" fill="#333"/>
<circle cx="208.00" cy="278.00" r="0.95" fill="#333"/>
<circle cx="208.00" cy="330.00" r="0.95" fill="#333"/>
<line x1="208.00" y1="288.00" x2="208.00" y2="323.60" stroke="#444" stroke-width="1.2"/>
<line x1="204.40" y1="288.00" x2="211.60" y2="288.00" stroke="#222" stroke-width="1.1"/>
<line x1="204.40" y1="323.60" x2="211.60" y2="323.60" stroke="#222" stroke-width="1.1"/>
<line x1="200.70" y1="305.80" x2="215.30" y2="305.80" stroke="#000" stroke-width="1.6"/>
<circle cx="230.00" cy="318.00" r="0.95" fill="#333"/>
<circle cx="230.00" cy="328.00" r="0.95" fill="#333"/>
<circle cx="230.00" cy="290.00" r="0.95" fill="#333"/>
<circle cx="230.00" cy="335.00" r="0.95" fill="#333"/>
<circle cx="230.00" cy="284.00" r="0.95" fill="#333"/>
<line x1="230.00" y1="293.60" x2="230.00" y2="328.60" stroke="#444" stroke-width="1.2"/>
<line x1="226.40" y1="293.60" x2="233.60" y2="293.60" stroke="#222" stroke-width="1.1"/>
<line x1="226.40" y1="328.60" x2="233.60" y2="328.60" stroke="#222" stroke-width="1.1"/>
<line x1="222.70" y1="311.20" x2="237.30" y2="311.20" stroke="#000" stroke-width="1.6"/>
<line x1="53.00" y1="325.00" x2="53.00" y2="361.25" stroke="#7c7c7c" stroke-width="1.3"/>
<line x1="53.00" y1="343.75" x2="75.20" y2="343.75" stroke="#7c7c7c" stroke-width="1.3"/>
<line x1="75.20" y1="337.00" x2="75.20" y2="343.75" stroke="#7c7c7c" stroke-width="1.3"/>
<text x="64.15" y="342.00" font-size="7.6" font-weight="bold" text-anchor="middle" fill="#000" letter-spacing="0.7">ns</text>
<line x1="53.00" y1="353.25" x2="97.40" y2="353.25" stroke="#7c7c7c" stroke-width="1.3"/>
<line x1="97.40" y1="345.00" x2="97.40" y2="353.25" stroke="#7c7c7c" stroke-width="1.3"/>
<text x="86.35" y="352.00" font-size="7.6" font-weight="bold" text-anchor="middle" fill="#000" letter-spacing="0.7">ns</text>
<line x1="53.00" y1="361.25" x2="119.60" y2="361.25" stroke="#7c7c7c" stroke-width="1.3"/>
<line x1="119.60" y1="353.00" x2="119.60" y2="361.25" stroke="#7c7c7c" stroke-width="1.3"/>
<text x="108.20" y="361.00" font-size="8" font-weight="bold" text-anchor="middle" fill="#000">*</text>
<line x1="164.00" y1="332.50" x2="164.00" y2="359.50" stroke="#7c7c7c" stroke-width="1.3"/>
<line x1="164.00" y1="346.75" x2="186.20" y2="346.75" stroke="#7c7c7c" stroke-width="1.3"/>
<line x1="186.20" y1="337.50" x2="186.20" y2="346.75" stroke="#7c7c7c" stroke-width="1.3"/>
<text x="175.35" y="345.50" font-size="7.6" font-weight="bold" text-anchor="middle" fill="#000" letter-spacing="0.7">ns</text>
<line x1="164.00" y1="353.00" x2="208.40" y2="353.00" stroke="#7c7c7c" stroke-width="1.3"/>
<line x1="208.40" y1="342.50" x2="208.40" y2="353.00" stroke="#7c7c7c" stroke-width="1.3"/>
<text x="197.55" y="351.30" font-size="7.6" font-weight="bold" text-anchor="middle" fill="#000" letter-spacing="0.7">ns</text>
<line x1="164.00" y1="359.50" x2="230.60" y2="359.50" stroke="#7c7c7c" stroke-width="1.3"/>
<line x1="230.60" y1="345.00" x2="230.60" y2="359.50" stroke="#7c7c7c" stroke-width="1.3"/>
<text x="220.15" y="357.60" font-size="7.6" font-weight="bold" text-anchor="middle" fill="#000" letter-spacing="0.7">ns</text>
<line x1="318.00" y1="236.00" x2="318.00" y2="370.20" stroke="#000" stroke-width="1.5"/>
<line x1="314.50" y1="369.50" x2="519.00" y2="369.50" stroke="#000" stroke-width="1.5"/>
<line x1="314.50" y1="369.50" x2="318.00" y2="369.50" stroke="#000" stroke-width="1.3"/>
<text x="0" y="0" font-size="9.8" font-weight="bold" text-anchor="end" fill="#000" transform="translate(313.30 373.05) scale(1 1.06)">0</text>
<line x1="314.50" y1="342.90" x2="318.00" y2="342.90" stroke="#000" stroke-width="1.3"/>
<text x="0" y="0" font-size="9.8" font-weight="bold" text-anchor="end" fill="#000" transform="translate(313.30 346.45) scale(1 1.06)">50</text>
<line x1="314.50" y1="316.30" x2="318.00" y2="316.30" stroke="#000" stroke-width="1.3"/>
<text x="0" y="0" font-size="9.8" font-weight="bold" text-anchor="end" fill="#000" transform="translate(313.30 319.85) scale(1 1.06)">100</text>
<line x1="314.50" y1="289.70" x2="318.00" y2="289.70" stroke="#000" stroke-width="1.3"/>
<text x="0" y="0" font-size="9.8" font-weight="bold" text-anchor="end" fill="#000" transform="translate(313.30 293.25) scale(1 1.06)">150</text>
<line x1="314.50" y1="263.10" x2="318.00" y2="263.10" stroke="#000" stroke-width="1.3"/>
<text x="0" y="0" font-size="9.8" font-weight="bold" text-anchor="end" fill="#000" transform="translate(313.30 266.65) scale(1 1.06)">200</text>
<line x1="314.50" y1="236.50" x2="318.00" y2="236.50" stroke="#000" stroke-width="1.3"/>
<text x="0" y="0" font-size="9.8" font-weight="bold" text-anchor="end" fill="#000" transform="translate(313.30 240.05) scale(1 1.06)">250</text>
<line x1="328.90" y1="369.50" x2="328.90" y2="373.00" stroke="#000" stroke-width="1.3"/>
<line x1="351.10" y1="369.50" x2="351.10" y2="373.00" stroke="#000" stroke-width="1.3"/>
<line x1="373.30" y1="369.50" x2="373.30" y2="373.00" stroke="#000" stroke-width="1.3"/>
<line x1="395.50" y1="369.50" x2="395.50" y2="373.00" stroke="#000" stroke-width="1.3"/>
<line x1="417.70" y1="369.50" x2="417.70" y2="373.00" stroke="#000" stroke-width="1.3"/>
<line x1="439.90" y1="369.50" x2="439.90" y2="373.00" stroke="#000" stroke-width="1.3"/>
<line x1="462.10" y1="369.50" x2="462.10" y2="373.00" stroke="#000" stroke-width="1.3"/>
<line x1="484.30" y1="369.50" x2="484.30" y2="373.00" stroke="#000" stroke-width="1.3"/>
<line x1="506.50" y1="369.50" x2="506.50" y2="373.00" stroke="#000" stroke-width="1.3"/>
<text x="0" y="0" font-size="7.5" font-weight="bold" text-anchor="end" fill="#000" transform="translate(328.80 380.60) rotate(-45)">Control</text>
<text x="0" y="0" font-size="7.5" font-weight="bold" text-anchor="end" fill="#000" transform="translate(351.30 380.60) rotate(-45)">Partial</text>
<text x="0" y="0" font-size="7.5" font-weight="bold" text-anchor="end" fill="#000" transform="translate(373.80 380.10) rotate(-45)">Major 1</text>
<text x="0" y="0" font-size="7.5" font-weight="bold" text-anchor="end" fill="#000" transform="translate(396.70 378.80) rotate(-45)">Major 2</text>
<text x="0" y="0" font-size="7.5" font-weight="bold" text-anchor="end" fill="#000" transform="translate(439.80 380.60) rotate(-45)">Control</text>
<text x="0" y="0" font-size="7.5" font-weight="bold" text-anchor="end" fill="#000" transform="translate(462.30 380.60) rotate(-45)">Partial</text>
<text x="0" y="0" font-size="7.5" font-weight="bold" text-anchor="end" fill="#000" transform="translate(484.80 380.10) rotate(-45)">Major 1</text>
<text x="0" y="0" font-size="7.5" font-weight="bold" text-anchor="end" fill="#000" transform="translate(507.70 378.80) rotate(-45)">Major 2</text>
<text x="273.70" y="225.90" font-size="17.5" font-weight="bold" text-anchor="start" fill="#000">D</text>
<text x="0" y="0" font-size="9.7" font-weight="bold" text-anchor="middle" fill="#000" transform="translate(418.70 220.70) scale(1 1.1)">PRP TF 0.5pm</text>
<polyline points="329.20,244.40 329.20,239.40 396.30,239.40 396.30,244.40" fill="none" stroke="#7c7c7c" stroke-width="1.3"/>
<text x="0" y="0" font-size="7.3" font-weight="bold" text-anchor="middle" fill="#000" transform="translate(363.10 236.20) scale(1 1.08)">No CTI</text>
<polyline points="439.50,245.00 439.50,240.00 508.70,240.00 508.70,245.00" fill="none" stroke="#7c7c7c" stroke-width="1.3"/>
<text x="0" y="0" font-size="7.3" font-weight="bold" text-anchor="middle" fill="#000" transform="translate(475.60 236.80) scale(1 1.08)">CTI</text>
<text x="0" y="0" font-size="9.85" font-weight="bold" text-anchor="middle" fill="#000" transform="translate(290.10 303.30) rotate(-90)">Peak Height (nM)</text>
<circle cx="328.90" cy="306.64" r="0.95" fill="#333"/>
<circle cx="326.90" cy="308.16" r="0.95" fill="#333"/>
<circle cx="331.40" cy="307.52" r="0.95" fill="#333"/>
<circle cx="324.40" cy="308.41" r="0.95" fill="#333"/>
<circle cx="328.90" cy="310.32" r="0.95" fill="#333"/>
<circle cx="329.90" cy="304.48" r="0.95" fill="#333"/>
<circle cx="332.90" cy="309.33" r="0.95" fill="#333"/>
<circle cx="335.40" cy="309.03" r="0.95" fill="#333"/>
<circle cx="326.40" cy="310.59" r="0.95" fill="#333"/>
<circle cx="327.40" cy="304.17" r="0.95" fill="#333"/>
<circle cx="328.90" cy="302.27" r="0.95" fill="#333"/>
<circle cx="332.40" cy="305.36" r="0.95" fill="#333"/>
<circle cx="321.90" cy="309.01" r="0.95" fill="#333"/>
<circle cx="324.90" cy="303.32" r="0.95" fill="#333"/>
<circle cx="334.90" cy="304.71" r="0.95" fill="#333"/>
<circle cx="322.40" cy="304.29" r="0.95" fill="#333"/>
<circle cx="331.40" cy="302.11" r="0.95" fill="#333"/>
<circle cx="331.40" cy="311.43" r="0.95" fill="#333"/>
<circle cx="333.90" cy="302.22" r="0.95" fill="#333"/>
<circle cx="327.90" cy="312.60" r="0.95" fill="#333"/>
<circle cx="328.90" cy="298.94" r="0.95" fill="#333"/>
<circle cx="326.26" cy="310.00" r="0.95" fill="#333"/>
<circle cx="323.90" cy="311.39" r="0.95" fill="#333"/>
<circle cx="329.90" cy="296.76" r="0.95" fill="#333"/>
<circle cx="329.40" cy="314.49" r="0.95" fill="#333"/>
<circle cx="326.90" cy="297.34" r="0.95" fill="#333"/>
<circle cx="328.90" cy="318.52" r="0.95" fill="#333"/>
<circle cx="332.40" cy="296.13" r="0.95" fill="#333"/>
<circle cx="324.90" cy="296.06" r="0.95" fill="#333"/>
<circle cx="326.40" cy="319.20" r="0.95" fill="#333"/>
<circle cx="334.90" cy="296.33" r="0.95" fill="#333"/>
<circle cx="328.90" cy="294.00" r="0.95" fill="#333"/>
<circle cx="328.90" cy="321.22" r="0.95" fill="#333"/>
<circle cx="331.40" cy="317.44" r="0.95" fill="#333"/>
<circle cx="322.40" cy="297.18" r="0.95" fill="#333"/>
<circle cx="326.40" cy="293.80" r="0.95" fill="#333"/>
<circle cx="328.40" cy="323.53" r="0.95" fill="#333"/>
<circle cx="330.90" cy="322.50" r="0.95" fill="#333"/>
<circle cx="333.90" cy="318.27" r="0.95" fill="#333"/>
<circle cx="331.40" cy="293.40" r="0.95" fill="#333"/>
<circle cx="323.90" cy="319.66" r="0.95" fill="#333"/>
<circle cx="333.90" cy="293.60" r="0.95" fill="#333"/>
<circle cx="323.40" cy="294.20" r="0.95" fill="#333"/>
<circle cx="325.90" cy="323.67" r="0.95" fill="#333"/>
<circle cx="333.40" cy="321.38" r="0.95" fill="#333"/>
<circle cx="328.90" cy="287.90" r="0.95" fill="#333"/>
<circle cx="328.90" cy="326.01" r="0.95" fill="#333"/>
<circle cx="331.40" cy="327.12" r="0.95" fill="#333"/>
<circle cx="328.90" cy="276.00" r="0.95" fill="#333"/>
<line x1="328.90" y1="298.00" x2="328.90" y2="322.00" stroke="#444" stroke-width="1.2"/>
<line x1="325.30" y1="298.00" x2="332.50" y2="298.00" stroke="#222" stroke-width="1.1"/>
<line x1="325.30" y1="322.00" x2="332.50" y2="322.00" stroke="#222" stroke-width="1.1"/>
<line x1="321.60" y1="310.80" x2="336.20" y2="310.80" stroke="#000" stroke-width="1.6"/>
<circle cx="351.10" cy="317.78" r="0.95" fill="#333"/>
<circle cx="353.60" cy="318.00" r="0.95" fill="#333"/>
<circle cx="349.10" cy="319.35" r="0.95" fill="#333"/>
<circle cx="351.10" cy="321.37" r="0.95" fill="#333"/>
<circle cx="348.60" cy="316.72" r="0.95" fill="#333"/>
<circle cx="346.10" cy="316.80" r="0.95" fill="#333"/>
<circle cx="356.10" cy="317.58" r="0.95" fill="#333"/>
<circle cx="345.10" cy="318.98" r="0.95" fill="#333"/>
<circle cx="353.60" cy="320.81" r="0.95" fill="#333"/>
<circle cx="347.77" cy="318.32" r="0.95" fill="#333"/>
<circle cx="351.10" cy="315.24" r="0.95" fill="#333"/>
<circle cx="353.60" cy="315.43" r="0.95" fill="#333"/>
<circle cx="349.06" cy="318.81" r="0.95" fill="#333"/>
<circle cx="356.10" cy="314.71" r="0.95" fill="#333"/>
<circle cx="353.10" cy="317.26" r="0.95" fill="#333"/>
<circle cx="348.10" cy="321.57" r="0.95" fill="#333"/>
<circle cx="347.13" cy="317.07" r="0.95" fill="#333"/>
<circle cx="348.60" cy="314.23" r="0.95" fill="#333"/>
<circle cx="351.10" cy="323.93" r="0.95" fill="#333"/>
<circle cx="355.60" cy="322.59" r="0.95" fill="#333"/>
<circle cx="355.62" cy="317.86" r="0.95" fill="#333"/>
<circle cx="344.10" cy="315.38" r="0.95" fill="#333"/>
<circle cx="345.60" cy="321.83" r="0.95" fill="#333"/>
<circle cx="357.60" cy="321.19" r="0.95" fill="#333"/>
<circle cx="350.90" cy="319.69" r="0.95" fill="#333"/>
<circle cx="351.10" cy="312.86" r="0.95" fill="#333"/>
<circle cx="353.60" cy="324.00" r="0.95" fill="#333"/>
<circle cx="353.66" cy="320.57" r="0.95" fill="#333"/>
<circle cx="347.07" cy="317.71" r="0.95" fill="#333"/>
<circle cx="356.46" cy="323.31" r="0.95" fill="#333"/>
<circle cx="356.02" cy="315.13" r="0.95" fill="#333"/>
<circle cx="344.75" cy="316.85" r="0.95" fill="#333"/>
<circle cx="346.65" cy="320.33" r="0.95" fill="#333"/>
<circle cx="348.60" cy="324.25" r="0.95" fill="#333"/>
<circle cx="353.69" cy="314.66" r="0.95" fill="#333"/>
<circle cx="346.10" cy="325.32" r="0.95" fill="#333"/>
<circle cx="353.60" cy="311.71" r="0.95" fill="#333"/>
<circle cx="345.97" cy="321.92" r="0.95" fill="#333"/>
<circle cx="346.21" cy="321.64" r="0.95" fill="#333"/>
<circle cx="350.10" cy="326.11" r="0.95" fill="#333"/>
<circle cx="354.62" cy="323.20" r="0.95" fill="#333"/>
<circle cx="352.60" cy="326.53" r="0.95" fill="#333"/>
<circle cx="346.10" cy="314.13" r="0.95" fill="#333"/>
<circle cx="357.10" cy="312.42" r="0.95" fill="#333"/>
<circle cx="351.10" cy="310.20" r="0.95" fill="#333"/>
<circle cx="353.09" cy="324.69" r="0.95" fill="#333"/>
<circle cx="356.45" cy="324.10" r="0.95" fill="#333"/>
<circle cx="358.10" cy="325.96" r="0.95" fill="#333"/>
<circle cx="346.92" cy="323.54" r="0.95" fill="#333"/>
<circle cx="344.63" cy="325.00" r="0.95" fill="#333"/>
<circle cx="352.15" cy="314.56" r="0.95" fill="#333"/>
<circle cx="354.30" cy="323.45" r="0.95" fill="#333"/>
<circle cx="348.60" cy="311.83" r="0.95" fill="#333"/>
<circle cx="345.00" cy="325.73" r="0.95" fill="#333"/>
<circle cx="345.79" cy="324.98" r="0.95" fill="#333"/>
<circle cx="344.60" cy="312.15" r="0.95" fill="#333"/>
<circle cx="351.46" cy="310.97" r="0.95" fill="#333"/>
<circle cx="346.61" cy="311.67" r="0.95" fill="#333"/>
<circle cx="351.10" cy="329.68" r="0.95" fill="#333"/>
<circle cx="351.52" cy="310.76" r="0.95" fill="#333"/>
<circle cx="348.60" cy="329.08" r="0.95" fill="#333"/>
<circle cx="353.60" cy="309.34" r="0.95" fill="#333"/>
<circle cx="353.60" cy="329.57" r="0.95" fill="#333"/>
<circle cx="356.10" cy="329.73" r="0.95" fill="#333"/>
<circle cx="355.10" cy="327.37" r="0.95" fill="#333"/>
<circle cx="346.10" cy="329.44" r="0.95" fill="#333"/>
<circle cx="351.10" cy="305.39" r="0.95" fill="#333"/>
<circle cx="344.31" cy="330.53" r="0.95" fill="#333"/>
<circle cx="349.10" cy="307.07" r="0.95" fill="#333"/>
<circle cx="358.10" cy="331.15" r="0.95" fill="#333"/>
<circle cx="353.60" cy="305.89" r="0.95" fill="#333"/>
<circle cx="351.10" cy="336.00" r="0.95" fill="#333"/>
<circle cx="346.60" cy="306.73" r="0.95" fill="#333"/>
<circle cx="348.60" cy="304.16" r="0.95" fill="#333"/>
<circle cx="351.10" cy="302.25" r="0.95" fill="#333"/>
<circle cx="344.25" cy="330.91" r="0.95" fill="#333"/>
<circle cx="352.60" cy="338.00" r="0.95" fill="#333"/>
<circle cx="353.60" cy="302.50" r="0.95" fill="#333"/>
<circle cx="348.60" cy="337.00" r="0.95" fill="#333"/>
<circle cx="351.10" cy="298.10" r="0.95" fill="#333"/>
<circle cx="350.10" cy="339.00" r="0.95" fill="#333"/>
<circle cx="347.60" cy="339.40" r="0.95" fill="#333"/>
<circle cx="351.10" cy="290.90" r="0.95" fill="#333"/>
<circle cx="351.10" cy="278.50" r="0.95" fill="#333"/>
<line x1="351.10" y1="308.50" x2="351.10" y2="330.50" stroke="#444" stroke-width="1.2"/>
<line x1="347.50" y1="308.50" x2="354.70" y2="308.50" stroke="#222" stroke-width="1.1"/>
<line x1="347.50" y1="330.50" x2="354.70" y2="330.50" stroke="#222" stroke-width="1.1"/>
<line x1="343.80" y1="320.10" x2="358.40" y2="320.10" stroke="#000" stroke-width="1.6"/>
<circle cx="373.30" cy="341.00" r="0.95" fill="#333"/>
<circle cx="373.30" cy="333.00" r="0.95" fill="#333"/>
<circle cx="373.30" cy="336.00" r="0.95" fill="#333"/>
<circle cx="373.30" cy="351.00" r="0.95" fill="#333"/>
<circle cx="373.30" cy="354.00" r="0.95" fill="#333"/>
<circle cx="373.30" cy="356.80" r="0.95" fill="#333"/>
<circle cx="373.30" cy="316.60" r="0.95" fill="#333"/>
<line x1="373.30" y1="329.40" x2="373.30" y2="353.80" stroke="#444" stroke-width="1.2"/>
<line x1="369.70" y1="329.40" x2="376.90" y2="329.40" stroke="#222" stroke-width="1.1"/>
<line x1="369.70" y1="353.80" x2="376.90" y2="353.80" stroke="#222" stroke-width="1.1"/>
<line x1="366.00" y1="341.80" x2="380.60" y2="341.80" stroke="#000" stroke-width="1.6"/>
<circle cx="395.50" cy="357.00" r="0.95" fill="#333"/>
<circle cx="395.50" cy="352.00" r="0.95" fill="#333"/>
<circle cx="395.50" cy="359.50" r="0.95" fill="#333"/>
<circle cx="395.50" cy="362.00" r="0.95" fill="#333"/>
<circle cx="395.50" cy="343.40" r="0.95" fill="#333"/>
<line x1="395.50" y1="350.30" x2="395.50" y2="363.30" stroke="#444" stroke-width="1.2"/>
<line x1="391.90" y1="350.30" x2="399.10" y2="350.30" stroke="#222" stroke-width="1.1"/>
<line x1="391.90" y1="363.30" x2="399.10" y2="363.30" stroke="#222" stroke-width="1.1"/>
<line x1="388.20" y1="357.00" x2="402.80" y2="357.00" stroke="#000" stroke-width="1.6"/>
<circle cx="439.90" cy="339.36" r="0.95" fill="#333"/>
<circle cx="440.90" cy="337.21" r="0.95" fill="#333"/>
<circle cx="437.40" cy="339.31" r="0.95" fill="#333"/>
<circle cx="442.40" cy="339.30" r="0.95" fill="#333"/>
<circle cx="438.90" cy="335.96" r="0.95" fill="#333"/>
<circle cx="434.90" cy="338.19" r="0.95" fill="#333"/>
<circle cx="443.40" cy="336.37" r="0.95" fill="#333"/>
<circle cx="444.40" cy="340.61" r="0.95" fill="#333"/>
<circle cx="439.90" cy="333.50" r="0.95" fill="#333"/>
<circle cx="439.90" cy="342.37" r="0.95" fill="#333"/>
<circle cx="436.40" cy="335.13" r="0.95" fill="#333"/>
<circle cx="445.90" cy="336.34" r="0.95" fill="#333"/>
<circle cx="435.90" cy="341.13" r="0.95" fill="#333"/>
<circle cx="435.19" cy="339.76" r="0.95" fill="#333"/>
<circle cx="445.12" cy="337.24" r="0.95" fill="#333"/>
<circle cx="438.88" cy="341.02" r="0.95" fill="#333"/>
<circle cx="436.01" cy="338.48" r="0.95" fill="#333"/>
<circle cx="441.90" cy="343.73" r="0.95" fill="#333"/>
<circle cx="438.67" cy="342.01" r="0.95" fill="#333"/>
<circle cx="436.40" cy="343.44" r="0.95" fill="#333"/>
<circle cx="441.94" cy="341.98" r="0.95" fill="#333"/>
<circle cx="441.90" cy="332.15" r="0.95" fill="#333"/>
<circle cx="437.90" cy="332.00" r="0.95" fill="#333"/>
<circle cx="443.90" cy="333.68" r="0.95" fill="#333"/>
<circle cx="434.90" cy="333.09" r="0.95" fill="#333"/>
<circle cx="443.13" cy="333.73" r="0.95" fill="#333"/>
<circle cx="439.90" cy="329.79" r="0.95" fill="#333"/>
<circle cx="439.90" cy="346.06" r="0.95" fill="#333"/>
<circle cx="444.40" cy="331.02" r="0.95" fill="#333"/>
<circle cx="444.07" cy="332.33" r="0.95" fill="#333"/>
<circle cx="444.40" cy="343.07" r="0.95" fill="#333"/>
<circle cx="439.86" cy="331.71" r="0.95" fill="#333"/>
<circle cx="440.67" cy="332.09" r="0.95" fill="#333"/>
<circle cx="443.90" cy="345.49" r="0.95" fill="#333"/>
<circle cx="433.90" cy="344.05" r="0.95" fill="#333"/>
<circle cx="439.69" cy="345.18" r="0.95" fill="#333"/>
<circle cx="442.40" cy="328.91" r="0.95" fill="#333"/>
<circle cx="444.02" cy="332.17" r="0.95" fill="#333"/>
<circle cx="441.90" cy="347.73" r="0.95" fill="#333"/>
<circle cx="443.70" cy="345.15" r="0.95" fill="#333"/>
<circle cx="438.40" cy="327.91" r="0.95" fill="#333"/>
<circle cx="435.90" cy="330.74" r="0.95" fill="#333"/>
<circle cx="433.90" cy="328.98" r="0.95" fill="#333"/>
<circle cx="438.40" cy="348.07" r="0.95" fill="#333"/>
<circle cx="439.90" cy="350.68" r="0.95" fill="#333"/>
<circle cx="435.90" cy="348.14" r="0.95" fill="#333"/>
<circle cx="439.90" cy="323.90" r="0.95" fill="#333"/>
<circle cx="437.90" cy="352.43" r="0.95" fill="#333"/>
<line x1="439.90" y1="331.00" x2="439.90" y2="345.50" stroke="#444" stroke-width="1.2"/>
<line x1="436.30" y1="331.00" x2="443.50" y2="331.00" stroke="#222" stroke-width="1.1"/>
<line x1="436.30" y1="345.50" x2="443.50" y2="345.50" stroke="#222" stroke-width="1.1"/>
<line x1="432.60" y1="338.40" x2="447.20" y2="338.40" stroke="#000" stroke-width="1.6"/>
<circle cx="462.10" cy="349.95" r="0.95" fill="#333"/>
<circle cx="464.60" cy="350.50" r="0.95" fill="#333"/>
<circle cx="460.10" cy="348.27" r="0.95" fill="#333"/>
<circle cx="466.10" cy="348.69" r="0.95" fill="#333"/>
<circle cx="457.60" cy="348.57" r="0.95" fill="#333"/>
<circle cx="459.60" cy="351.01" r="0.95" fill="#333"/>
<circle cx="466.60" cy="352.05" r="0.95" fill="#333"/>
<circle cx="463.10" cy="347.73" r="0.95" fill="#333"/>
<circle cx="457.10" cy="351.92" r="0.95" fill="#333"/>
<circle cx="468.60" cy="348.36" r="0.95" fill="#333"/>
<circle cx="469.10" cy="352.11" r="0.95" fill="#333"/>
<circle cx="455.10" cy="348.72" r="0.95" fill="#333"/>
<circle cx="458.49" cy="349.87" r="0.95" fill="#333"/>
<circle cx="468.17" cy="347.42" r="0.95" fill="#333"/>
<circle cx="454.60" cy="351.30" r="0.95" fill="#333"/>
<circle cx="461.13" cy="349.66" r="0.95" fill="#333"/>
<circle cx="465.82" cy="348.59" r="0.95" fill="#333"/>
<circle cx="455.62" cy="350.02" r="0.95" fill="#333"/>
<circle cx="462.10" cy="353.00" r="0.95" fill="#333"/>
<circle cx="458.20" cy="351.48" r="0.95" fill="#333"/>
<circle cx="463.02" cy="348.92" r="0.95" fill="#333"/>
<circle cx="463.23" cy="353.22" r="0.95" fill="#333"/>
<circle cx="460.48" cy="349.62" r="0.95" fill="#333"/>
<circle cx="459.60" cy="354.06" r="0.95" fill="#333"/>
<circle cx="466.99" cy="352.78" r="0.95" fill="#333"/>
<circle cx="468.82" cy="350.45" r="0.95" fill="#333"/>
<circle cx="461.60" cy="345.69" r="0.95" fill="#333"/>
<circle cx="464.55" cy="349.22" r="0.95" fill="#333"/>
<circle cx="459.10" cy="346.07" r="0.95" fill="#333"/>
<circle cx="454.67" cy="349.79" r="0.95" fill="#333"/>
<circle cx="464.10" cy="345.04" r="0.95" fill="#333"/>
<circle cx="468.86" cy="349.27" r="0.95" fill="#333"/>
<circle cx="460.88" cy="348.32" r="0.95" fill="#333"/>
<circle cx="461.46" cy="351.74" r="0.95" fill="#333"/>
<circle cx="457.10" cy="354.33" r="0.95" fill="#333"/>
<circle cx="455.85" cy="349.06" r="0.95" fill="#333"/>
<circle cx="467.27" cy="353.60" r="0.95" fill="#333"/>
<circle cx="458.98" cy="348.84" r="0.95" fill="#333"/>
<circle cx="469.49" cy="353.24" r="0.95" fill="#333"/>
<circle cx="454.60" cy="354.54" r="0.95" fill="#333"/>
<circle cx="460.71" cy="354.17" r="0.95" fill="#333"/>
<circle cx="456.41" cy="348.40" r="0.95" fill="#333"/>
<circle cx="460.23" cy="354.05" r="0.95" fill="#333"/>
<circle cx="465.10" cy="354.82" r="0.95" fill="#333"/>
<circle cx="458.67" cy="355.32" r="0.95" fill="#333"/>
<circle cx="460.04" cy="350.74" r="0.95" fill="#333"/>
<circle cx="459.87" cy="350.85" r="0.95" fill="#333"/>
<circle cx="459.23" cy="349.92" r="0.95" fill="#333"/>
<circle cx="468.94" cy="351.37" r="0.95" fill="#333"/>
<circle cx="467.45" cy="354.30" r="0.95" fill="#333"/>
<circle cx="460.46" cy="347.69" r="0.95" fill="#333"/>
<circle cx="454.61" cy="354.08" r="0.95" fill="#333"/>
<circle cx="456.16" cy="352.72" r="0.95" fill="#333"/>
<circle cx="461.42" cy="348.84" r="0.95" fill="#333"/>
<circle cx="462.60" cy="355.74" r="0.95" fill="#333"/>
<circle cx="464.74" cy="351.24" r="0.95" fill="#333"/>
<circle cx="469.60" cy="355.72" r="0.95" fill="#333"/>
<circle cx="460.60" cy="343.55" r="0.95" fill="#333"/>
<circle cx="464.59" cy="354.68" r="0.95" fill="#333"/>
<circle cx="462.31" cy="348.03" r="0.95" fill="#333"/>
<circle cx="461.26" cy="356.31" r="0.95" fill="#333"/>
<circle cx="460.03" cy="353.50" r="0.95" fill="#333"/>
<circle cx="468.67" cy="346.59" r="0.95" fill="#333"/>
<circle cx="468.21" cy="354.75" r="0.95" fill="#333"/>
<circle cx="462.00" cy="354.83" r="0.95" fill="#333"/>
<circle cx="463.10" cy="342.80" r="0.95" fill="#333"/>
<circle cx="467.73" cy="354.11" r="0.95" fill="#333"/>
<circle cx="462.96" cy="352.85" r="0.95" fill="#333"/>
<circle cx="466.60" cy="344.38" r="0.95" fill="#333"/>
<circle cx="465.87" cy="355.96" r="0.95" fill="#333"/>
<circle cx="465.53" cy="355.07" r="0.95" fill="#333"/>
<circle cx="455.13" cy="353.78" r="0.95" fill="#333"/>
<circle cx="456.60" cy="356.97" r="0.95" fill="#333"/>
<circle cx="456.65" cy="355.78" r="0.95" fill="#333"/>
<circle cx="456.77" cy="353.37" r="0.95" fill="#333"/>
<circle cx="469.57" cy="357.38" r="0.95" fill="#333"/>
<circle cx="465.60" cy="342.10" r="0.95" fill="#333"/>
<circle cx="464.01" cy="353.79" r="0.95" fill="#333"/>
<circle cx="456.60" cy="345.87" r="0.95" fill="#333"/>
<circle cx="462.10" cy="340.22" r="0.95" fill="#333"/>
<circle cx="460.91" cy="354.80" r="0.95" fill="#333"/>
<circle cx="454.60" cy="344.55" r="0.95" fill="#333"/>
<circle cx="466.67" cy="356.63" r="0.95" fill="#333"/>
<circle cx="461.99" cy="354.42" r="0.95" fill="#333"/>
<circle cx="458.10" cy="342.96" r="0.95" fill="#333"/>
<circle cx="459.60" cy="340.40" r="0.95" fill="#333"/>
<circle cx="469.10" cy="343.70" r="0.95" fill="#333"/>
<circle cx="467.10" cy="356.83" r="0.95" fill="#333"/>
<circle cx="462.10" cy="359.03" r="0.95" fill="#333"/>
<circle cx="466.50" cy="356.56" r="0.95" fill="#333"/>
<circle cx="459.60" cy="359.76" r="0.95" fill="#333"/>
<circle cx="464.60" cy="359.38" r="0.95" fill="#333"/>
<circle cx="467.10" cy="359.33" r="0.95" fill="#333"/>
<circle cx="457.10" cy="360.76" r="0.95" fill="#333"/>
<circle cx="454.60" cy="359.71" r="0.95" fill="#333"/>
<circle cx="465.68" cy="343.41" r="0.95" fill="#333"/>
<circle cx="463.60" cy="338.28" r="0.95" fill="#333"/>
<circle cx="468.21" cy="343.26" r="0.95" fill="#333"/>
<circle cx="469.10" cy="360.59" r="0.95" fill="#333"/>
<circle cx="456.10" cy="341.36" r="0.95" fill="#333"/>
<circle cx="469.03" cy="358.94" r="0.95" fill="#333"/>
<circle cx="458.69" cy="359.67" r="0.95" fill="#333"/>
<circle cx="469.60" cy="341.19" r="0.95" fill="#333"/>
<circle cx="462.10" cy="336.17" r="0.95" fill="#333"/>
<circle cx="468.52" cy="360.63" r="0.95" fill="#333"/>
<circle cx="459.60" cy="336.16" r="0.95" fill="#333"/>
<circle cx="466.10" cy="338.96" r="0.95" fill="#333"/>
<circle cx="460.03" cy="360.44" r="0.95" fill="#333"/>
<circle cx="457.10" cy="336.91" r="0.95" fill="#333"/>
<circle cx="464.10" cy="334.83" r="0.95" fill="#333"/>
<circle cx="467.10" cy="336.74" r="0.95" fill="#333"/>
<circle cx="455.10" cy="335.23" r="0.95" fill="#333"/>
<circle cx="462.10" cy="330.90" r="0.95" fill="#333"/>
<circle cx="462.10" cy="315.50" r="0.95" fill="#333"/>
<circle cx="460.60" cy="313.40" r="0.95" fill="#333"/>
<line x1="462.10" y1="338.50" x2="462.10" y2="356.50" stroke="#444" stroke-width="1.2"/>
<line x1="458.50" y1="338.50" x2="465.70" y2="338.50" stroke="#222" stroke-width="1.1"/>
<line x1="458.50" y1="356.50" x2="465.70" y2="356.50" stroke="#222" stroke-width="1.1"/>
<line x1="454.80" y1="348.00" x2="469.40" y2="348.00" stroke="#000" stroke-width="1.6"/>
<circle cx="484.30" cy="348.50" r="0.95" fill="#333"/>
<circle cx="484.30" cy="351.00" r="0.95" fill="#333"/>
<circle cx="481.80" cy="349.00" r="0.95" fill="#333"/>
<circle cx="486.30" cy="347.00" r="0.95" fill="#333"/>
<circle cx="484.30" cy="354.00" r="0.95" fill="#333"/>
<circle cx="482.80" cy="346.50" r="0.95" fill="#333"/>
<circle cx="480.30" cy="346.00" r="0.95" fill="#333"/>
<circle cx="484.30" cy="359.00" r="0.95" fill="#333"/>
<circle cx="488.80" cy="347.50" r="0.95" fill="#333"/>
<circle cx="482.80" cy="357.00" r="0.95" fill="#333"/>
<circle cx="484.30" cy="364.50" r="0.95" fill="#333"/>
<line x1="484.30" y1="347.50" x2="484.30" y2="360.00" stroke="#444" stroke-width="1.2"/>
<line x1="480.70" y1="347.50" x2="487.90" y2="347.50" stroke="#222" stroke-width="1.1"/>
<line x1="480.70" y1="360.00" x2="487.90" y2="360.00" stroke="#222" stroke-width="1.1"/>
<line x1="477.00" y1="354.20" x2="491.60" y2="354.20" stroke="#000" stroke-width="1.6"/>
<circle cx="506.10" cy="355.50" r="0.95" fill="#333"/>
<circle cx="506.10" cy="358.00" r="0.95" fill="#333"/>
<circle cx="506.10" cy="365.00" r="0.95" fill="#333"/>
<circle cx="506.10" cy="360.50" r="0.95" fill="#333"/>
<circle cx="508.60" cy="361.50" r="0.95" fill="#333"/>
<circle cx="506.10" cy="348.00" r="0.95" fill="#333"/>
<line x1="506.10" y1="352.50" x2="506.10" y2="363.30" stroke="#444" stroke-width="1.2"/>
<line x1="502.50" y1="352.50" x2="509.70" y2="352.50" stroke="#222" stroke-width="1.1"/>
<line x1="502.50" y1="363.30" x2="509.70" y2="363.30" stroke="#222" stroke-width="1.1"/>
<line x1="498.80" y1="358.40" x2="513.40" y2="358.40" stroke="#000" stroke-width="1.6"/>
<line x1="328.90" y1="263.70" x2="351.10" y2="263.70" stroke="#7c7c7c" stroke-width="1.3"/>
<line x1="351.10" y1="263.70" x2="351.10" y2="271.80" stroke="#7c7c7c" stroke-width="1.3"/>
<text x="340.50" y="271.00" font-size="8" font-weight="bold" text-anchor="middle" fill="#000">***</text>
<line x1="328.90" y1="260.90" x2="373.30" y2="260.90" stroke="#7c7c7c" stroke-width="1.3"/>
<line x1="373.30" y1="260.90" x2="373.30" y2="298.75" stroke="#7c7c7c" stroke-width="1.3"/>
<text x="363.00" y="268.30" font-size="8" font-weight="bold" text-anchor="middle" fill="#000">****</text>
<line x1="328.90" y1="258.00" x2="395.50" y2="258.00" stroke="#7c7c7c" stroke-width="1.3"/>
<line x1="395.50" y1="258.00" x2="395.50" y2="311.25" stroke="#7c7c7c" stroke-width="1.3"/>
<text x="385.00" y="265.80" font-size="8" font-weight="bold" text-anchor="middle" fill="#000">****</text>
<line x1="328.90" y1="258.00" x2="328.90" y2="272.00" stroke="#7c7c7c" stroke-width="1.3"/>
<line x1="439.90" y1="301.50" x2="462.10" y2="301.50" stroke="#7c7c7c" stroke-width="1.3"/>
<line x1="462.10" y1="301.50" x2="462.10" y2="309.80" stroke="#7c7c7c" stroke-width="1.3"/>
<text x="452.00" y="308.60" font-size="8" font-weight="bold" text-anchor="middle" fill="#000">****</text>
<line x1="439.90" y1="296.50" x2="484.30" y2="296.50" stroke="#7c7c7c" stroke-width="1.3"/>
<line x1="484.30" y1="296.50" x2="484.30" y2="315.60" stroke="#7c7c7c" stroke-width="1.3"/>
<text x="474.00" y="303.00" font-size="8" font-weight="bold" text-anchor="middle" fill="#000">****</text>
<line x1="439.90" y1="291.20" x2="506.50" y2="291.20" stroke="#7c7c7c" stroke-width="1.3"/>
<line x1="506.50" y1="291.20" x2="506.50" y2="327.00" stroke="#7c7c7c" stroke-width="1.3"/>
<text x="496.50" y="298.40" font-size="8" font-weight="bold" text-anchor="middle" fill="#000">****</text>
<line x1="439.90" y1="291.20" x2="439.90" y2="316.50" stroke="#7c7c7c" stroke-width="1.3"/>
</g>
</svg>
</body></html>
